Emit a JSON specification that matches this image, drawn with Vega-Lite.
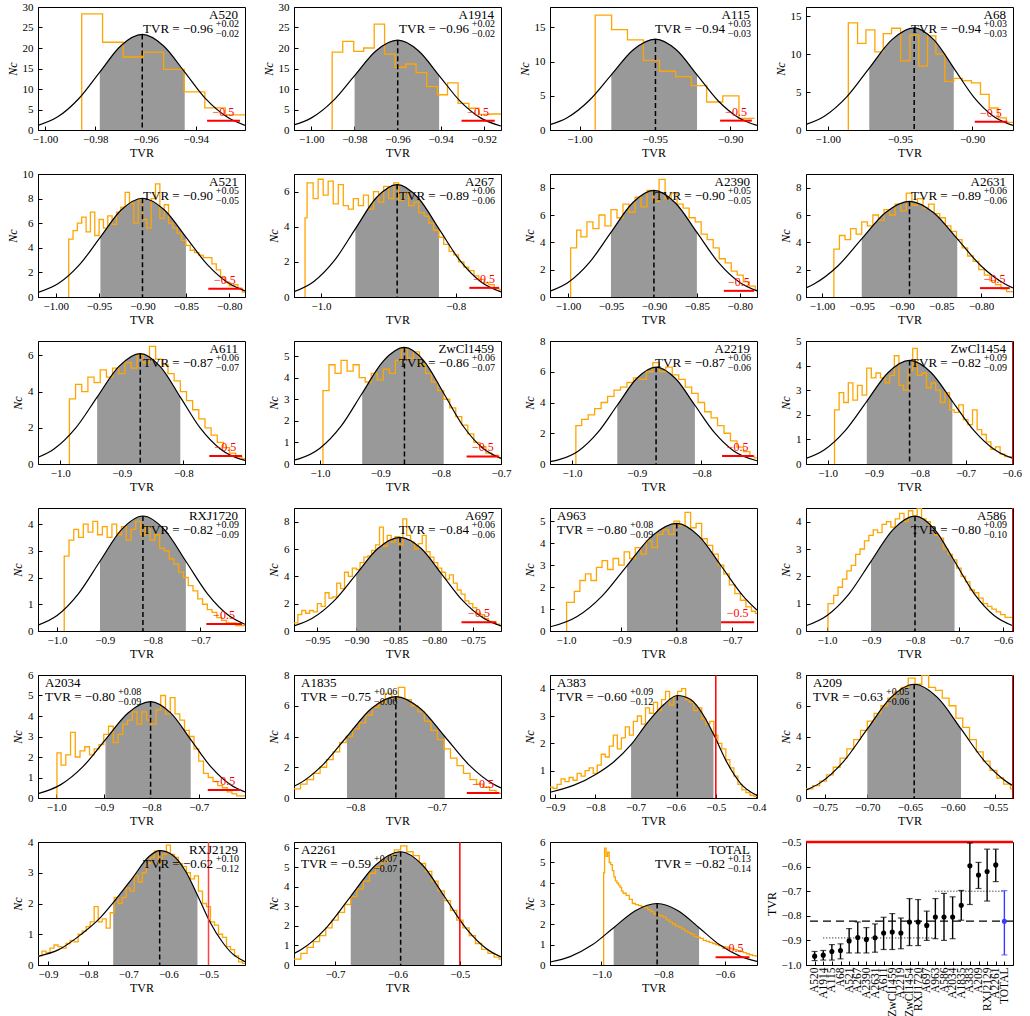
{
"$schema":"https://vega.github.io/schema/vega-lite/v6.json",
"background":"white",
"padding":{"left":5,"top":0,"right":0,"bottom":0},
"columns":4,
"spacing":{"row":44,"column":49},
"bounds":"flush",
"config":{"font":"Liberation Serif","view":{"stroke":"black","strokeWidth":1},
"axis":{"grid":false,"domainColor":"black","tickColor":"black","tickSize":-4,"labelPadding":7,"labelFont":"Liberation Serif","labelFontSize":11,"labelColor":"black","labelFlush":false,"labelOverlap":false,"titleFont":"Liberation Serif","titleFontSize":12,"titleFontWeight":"normal","titleColor":"black","titlePadding":3},
"axisY":{"labelPadding":9,"titleFontStyle":"italic"},
"text":{"font":"Liberation Serif","baseline":"alphabetic","color":"black"}},
"datasets":{
"A520":[{"k":"g","x":-1.0028,"y":1.14},{"k":"g","x":-0.9951,"y":3.15},{"k":"g","x":-0.9867,"y":7.57},{"k":"s","x":-0.9782,"y":14.13},{"k":"s","x":-0.9698,"y":20.56},{"k":"s","x":-0.9613,"y":23.3},{"k":"s","x":-0.9529,"y":20.56},{"k":"s","x":-0.9444,"y":14.13},{"k":"g","x":-0.936,"y":7.57},{"k":"g","x":-0.9275,"y":3.15},{"k":"g","x":-0.9204,"y":1.14},{"k":"m","x":-0.9613,"y":23.3},
{"k":"h","x":-0.9855,"y":0},{"k":"h","x":-0.9854,"y":28.3},{"k":"h","x":-0.9771,"y":21.4},{"k":"h","x":-0.9689,"y":17.8},{"k":"h","x":-0.9608,"y":19.0},{"k":"h","x":-0.9528,"y":14.8},{"k":"h","x":-0.9446,"y":9.3},{"k":"h","x":-0.9364,"y":5.4},{"k":"h","x":-0.9282,"y":3.7},{"k":"h","x":-0.9204,"y":3.7},
{"k":"r","x":-0.9355,"y":2.25},{"k":"r","x":-0.9224,"y":2.25},{"k":"q","x":-0.929,"y":2.25},
{"k":"T","x":-0.9204,"y":30,"n":"A520","v":"TVR = −0.96","u":"+0.02","l":"−0.02"}],
"A1914":[{"k":"g","x":-1.008,"y":1.22},{"k":"g","x":-0.9999,"y":2.96},{"k":"g","x":-0.9899,"y":7.11},{"k":"s","x":-0.9799,"y":13.28},{"k":"s","x":-0.9699,"y":19.33},{"k":"s","x":-0.9599,"y":21.9},{"k":"s","x":-0.9503,"y":19.33},{"k":"s","x":-0.9407,"y":13.28},{"k":"g","x":-0.9311,"y":7.11},{"k":"g","x":-0.9215,"y":2.96},{"k":"g","x":-0.912,"y":0.97},{"k":"m","x":-0.9599,"y":21.9},
{"k":"h","x":-0.9904,"y":0},{"k":"h","x":-0.9903,"y":19.0},{"k":"h","x":-0.9854,"y":21.6},{"k":"h","x":-0.9803,"y":19.2},{"k":"h","x":-0.9757,"y":20.0},{"k":"h","x":-0.9708,"y":25.8},{"k":"h","x":-0.966,"y":18.5},{"k":"h","x":-0.9611,"y":15.3},{"k":"h","x":-0.9562,"y":16.1},{"k":"h","x":-0.9514,"y":14.0},{"k":"h","x":-0.9465,"y":10.6},{"k":"h","x":-0.9415,"y":8.6},{"k":"h","x":-0.9368,"y":11.5},{"k":"h","x":-0.9319,"y":6.5},{"k":"h","x":-0.9269,"y":5.3},{"k":"h","x":-0.9222,"y":3.8},{"k":"h","x":-0.9172,"y":3.9},{"k":"h","x":-0.912,"y":3.9},
{"k":"r","x":-0.9303,"y":2.26},{"k":"r","x":-0.9149,"y":2.26},{"k":"q","x":-0.9226,"y":2.26},
{"k":"T","x":-0.912,"y":30,"n":"A1914","v":"TVR = −0.96","u":"+0.02","l":"−0.02"}],
"A115":[{"k":"g","x":-1.0196,"y":0.77},{"k":"g","x":-1.0082,"y":1.8},{"k":"g","x":-0.9936,"y":4.32},{"k":"s","x":-0.9789,"y":8.07},{"k":"s","x":-0.9643,"y":11.74},{"k":"s","x":-0.9496,"y":13.3},{"k":"s","x":-0.9358,"y":11.74},{"k":"s","x":-0.922,"y":8.07},{"k":"g","x":-0.9082,"y":4.32},{"k":"g","x":-0.8944,"y":1.8},{"k":"g","x":-0.8822,"y":0.67},{"k":"m","x":-0.9496,"y":13.3},
{"k":"h","x":-0.9897,"y":0},{"k":"h","x":-0.9896,"y":16.8},{"k":"h","x":-0.9787,"y":14.7},{"k":"h","x":-0.9682,"y":13.2},{"k":"h","x":-0.9576,"y":10.2},{"k":"h","x":-0.9469,"y":8.6},{"k":"h","x":-0.9362,"y":7.8},{"k":"h","x":-0.9258,"y":6.5},{"k":"h","x":-0.9156,"y":4.1},{"k":"h","x":-0.9049,"y":5.0},{"k":"h","x":-0.8942,"y":1.7},{"k":"h","x":-0.8838,"y":1.7},
{"k":"r","x":-0.9067,"y":1.37},{"k":"r","x":-0.8856,"y":1.37},{"k":"q","x":-0.896,"y":1.37},
{"k":"T","x":-0.8822,"y":18,"n":"A115","v":"TVR = −0.94","u":"+0.03","l":"−0.03"}],
"A68":[{"k":"g","x":-1.015,"y":0.74},{"k":"g","x":-1.0023,"y":1.82},{"k":"g","x":-0.9868,"y":4.37},{"k":"s","x":-0.9712,"y":8.16},{"k":"s","x":-0.9557,"y":11.87},{"k":"s","x":-0.9401,"y":13.45},{"k":"s","x":-0.9264,"y":11.87},{"k":"s","x":-0.9127,"y":8.16},{"k":"g","x":-0.899,"y":4.37},{"k":"g","x":-0.8853,"y":1.82},{"k":"g","x":-0.8717,"y":0.6},{"k":"m","x":-0.9401,"y":13.45},
{"k":"h","x":-0.9858,"y":0},{"k":"h","x":-0.9857,"y":14.1},{"k":"h","x":-0.9793,"y":11.4},{"k":"h","x":-0.9735,"y":13.2},{"k":"h","x":-0.9673,"y":10.3},{"k":"h","x":-0.9615,"y":12.7},{"k":"h","x":-0.9558,"y":13.4},{"k":"h","x":-0.9495,"y":9.1},{"k":"h","x":-0.9431,"y":12.5},{"k":"h","x":-0.9369,"y":8.4},{"k":"h","x":-0.9309,"y":12.4},{"k":"h","x":-0.9251,"y":10.0},{"k":"h","x":-0.9189,"y":6.4},{"k":"h","x":-0.9127,"y":6.8},{"k":"h","x":-0.9067,"y":6.5},{"k":"h","x":-0.9005,"y":6.2},{"k":"h","x":-0.8942,"y":4.7},{"k":"h","x":-0.8882,"y":2.9},{"k":"h","x":-0.882,"y":1.6},{"k":"h","x":-0.8763,"y":1.0},{"k":"h","x":-0.8717,"y":1.0},
{"k":"r","x":-0.8982,"y":1.1},{"k":"r","x":-0.8756,"y":1.1},{"k":"q","x":-0.887,"y":1.1},
{"k":"T","x":-0.8717,"y":16.2,"n":"A68","v":"TVR = −0.94","u":"+0.03","l":"−0.03"}],
"A521":[{"k":"g","x":-1.0204,"y":0.37},{"k":"g","x":-0.997,"y":1.09},{"k":"g","x":-0.9728,"y":2.61},{"k":"s","x":-0.9485,"y":4.87},{"k":"s","x":-0.9243,"y":7.09},{"k":"s","x":-0.9,"y":8.03},{"k":"s","x":-0.875,"y":7.09},{"k":"s","x":-0.85,"y":4.87},{"k":"g","x":-0.825,"y":2.61},{"k":"g","x":-0.8,"y":1.09},{"k":"g","x":-0.7819,"y":0.49},{"k":"m","x":-0.9,"y":8.03},
{"k":"h","x":-0.9851,"y":0},{"k":"h","x":-0.985,"y":4.7},{"k":"h","x":-0.98,"y":5.4},{"k":"h","x":-0.975,"y":6.0},{"k":"h","x":-0.97,"y":6.5},{"k":"h","x":-0.965,"y":5.3},{"k":"h","x":-0.96,"y":6.9},{"k":"h","x":-0.955,"y":5.0},{"k":"h","x":-0.95,"y":6.3},{"k":"h","x":-0.945,"y":5.6},{"k":"h","x":-0.94,"y":6.6},{"k":"h","x":-0.935,"y":5.9},{"k":"h","x":-0.93,"y":6.9},{"k":"h","x":-0.925,"y":7.3},{"k":"h","x":-0.92,"y":8.5},{"k":"h","x":-0.915,"y":7.6},{"k":"h","x":-0.91,"y":6.0},{"k":"h","x":-0.905,"y":7.9},{"k":"h","x":-0.9,"y":6.3},{"k":"h","x":-0.895,"y":5.6},{"k":"h","x":-0.89,"y":8.0},{"k":"h","x":-0.885,"y":9.2},{"k":"h","x":-0.88,"y":6.4},{"k":"h","x":-0.875,"y":7.5},{"k":"h","x":-0.87,"y":6.0},{"k":"h","x":-0.865,"y":5.6},{"k":"h","x":-0.86,"y":5.2},{"k":"h","x":-0.855,"y":4.6},{"k":"h","x":-0.85,"y":4.2},{"k":"h","x":-0.845,"y":3.8},{"k":"h","x":-0.84,"y":3.6},{"k":"h","x":-0.835,"y":3.4},{"k":"h","x":-0.83,"y":3.2},{"k":"h","x":-0.825,"y":3.2},{"k":"h","x":-0.82,"y":2.7},{"k":"h","x":-0.815,"y":2.2},{"k":"h","x":-0.81,"y":1.6},{"k":"h","x":-0.805,"y":1.2},{"k":"h","x":-0.8,"y":0.9},{"k":"h","x":-0.795,"y":1.0},{"k":"h","x":-0.79,"y":0.7},{"k":"h","x":-0.785,"y":0.4},{"k":"h","x":-0.7819,"y":0.4},
{"k":"r","x":-0.8242,"y":0.68},{"k":"r","x":-0.7858,"y":0.68},{"k":"q","x":-0.805,"y":0.68},
{"k":"T","x":-0.7819,"y":10,"n":"A521","v":"TVR = −0.90","u":"+0.05","l":"−0.05"}],
"A267":[{"k":"g","x":-1.04,"y":0.3},{"k":"g","x":-1.011,"y":0.87},{"k":"g","x":-0.98,"y":2.08},{"k":"s","x":-0.949,"y":3.88},{"k":"s","x":-0.918,"y":5.65},{"k":"s","x":-0.887,"y":6.4},{"k":"s","x":-0.856,"y":5.65},{"k":"s","x":-0.825,"y":3.88},{"k":"g","x":-0.794,"y":2.08},{"k":"g","x":-0.763,"y":0.87},{"k":"g","x":-0.733,"y":0.29},{"k":"m","x":-0.887,"y":6.4},
{"k":"h","x":-1.0237,"y":0},{"k":"h","x":-1.0236,"y":4.5},{"k":"h","x":-1.0206,"y":6.5},{"k":"h","x":-1.0116,"y":5.6},{"k":"h","x":-1.0042,"y":6.7},{"k":"h","x":-0.9967,"y":5.8},{"k":"h","x":-0.9893,"y":6.6},{"k":"h","x":-0.9818,"y":5.3},{"k":"h","x":-0.9743,"y":6.4},{"k":"h","x":-0.9669,"y":5.2},{"k":"h","x":-0.9594,"y":5.0},{"k":"h","x":-0.952,"y":5.6},{"k":"h","x":-0.9445,"y":5.2},{"k":"h","x":-0.937,"y":5.8},{"k":"h","x":-0.9296,"y":5.0},{"k":"h","x":-0.922,"y":6.0},{"k":"h","x":-0.9146,"y":5.4},{"k":"h","x":-0.907,"y":6.3},{"k":"h","x":-0.8997,"y":5.6},{"k":"h","x":-0.892,"y":6.5},{"k":"h","x":-0.8848,"y":5.5},{"k":"h","x":-0.877,"y":5.9},{"k":"h","x":-0.8699,"y":5.2},{"k":"h","x":-0.862,"y":5.4},{"k":"h","x":-0.855,"y":4.8},{"k":"h","x":-0.847,"y":4.6},{"k":"h","x":-0.84,"y":4.2},{"k":"h","x":-0.833,"y":3.8},{"k":"h","x":-0.825,"y":3.4},{"k":"h","x":-0.818,"y":3.0},{"k":"h","x":-0.81,"y":2.6},{"k":"h","x":-0.803,"y":2.4},{"k":"h","x":-0.796,"y":2.0},{"k":"h","x":-0.788,"y":1.7},{"k":"h","x":-0.781,"y":1.5},{"k":"h","x":-0.773,"y":1.2},{"k":"h","x":-0.766,"y":1.0},{"k":"h","x":-0.758,"y":0.8},{"k":"h","x":-0.751,"y":0.7},{"k":"h","x":-0.743,"y":0.5},{"k":"h","x":-0.736,"y":0.4},{"k":"h","x":-0.733,"y":0.4},
{"k":"r","x":-0.78,"y":0.52},{"k":"r","x":-0.736,"y":0.52},{"k":"q","x":-0.758,"y":0.52},
{"k":"T","x":-0.733,"y":7,"n":"A267","v":"TVR = −0.89","u":"+0.06","l":"−0.06"}],
"A2390":[{"k":"g","x":-1.021,"y":0.42},{"k":"g","x":-1.0,"y":1.06},{"k":"g","x":-0.975,"y":2.53},{"k":"s","x":-0.95,"y":4.73},{"k":"s","x":-0.925,"y":6.88},{"k":"s","x":-0.9,"y":7.8},{"k":"s","x":-0.875,"y":6.88},{"k":"s","x":-0.85,"y":4.73},{"k":"g","x":-0.825,"y":2.53},{"k":"g","x":-0.8,"y":1.06},{"k":"g","x":-0.78,"y":0.44},{"k":"m","x":-0.9,"y":7.8},
{"k":"h","x":-0.9971,"y":0},{"k":"h","x":-0.997,"y":3.6},{"k":"h","x":-0.99,"y":4.9},{"k":"h","x":-0.985,"y":4.4},{"k":"h","x":-0.978,"y":5.5},{"k":"h","x":-0.971,"y":5.0},{"k":"h","x":-0.964,"y":6.0},{"k":"h","x":-0.957,"y":5.2},{"k":"h","x":-0.95,"y":6.4},{"k":"h","x":-0.943,"y":5.8},{"k":"h","x":-0.936,"y":6.8},{"k":"h","x":-0.929,"y":6.2},{"k":"h","x":-0.922,"y":7.3},{"k":"h","x":-0.915,"y":6.6},{"k":"h","x":-0.908,"y":7.8},{"k":"h","x":-0.901,"y":7.0},{"k":"h","x":-0.894,"y":8.6},{"k":"h","x":-0.887,"y":7.2},{"k":"h","x":-0.88,"y":7.6},{"k":"h","x":-0.873,"y":6.8},{"k":"h","x":-0.866,"y":6.5},{"k":"h","x":-0.859,"y":5.8},{"k":"h","x":-0.852,"y":5.5},{"k":"h","x":-0.845,"y":4.6},{"k":"h","x":-0.838,"y":4.2},{"k":"h","x":-0.831,"y":3.6},{"k":"h","x":-0.824,"y":2.8},{"k":"h","x":-0.817,"y":2.5},{"k":"h","x":-0.81,"y":1.9},{"k":"h","x":-0.803,"y":1.6},{"k":"h","x":-0.796,"y":1.1},{"k":"h","x":-0.789,"y":0.8},{"k":"h","x":-0.782,"y":0.5},{"k":"h","x":-0.78,"y":0.5},
{"k":"r","x":-0.8186,"y":0.45},{"k":"r","x":-0.7835,"y":0.45},{"k":"q","x":-0.801,"y":0.45},
{"k":"T","x":-0.78,"y":9,"n":"A2390","v":"TVR = −0.90","u":"+0.05","l":"−0.05"}],
"A2631":[{"k":"g","x":-1.02,"y":0.66},{"k":"g","x":-1.01,"y":0.95},{"k":"g","x":-0.98,"y":2.27},{"k":"s","x":-0.95,"y":4.25},{"k":"s","x":-0.92,"y":6.18},{"k":"s","x":-0.89,"y":7.0},{"k":"s","x":-0.86,"y":6.18},{"k":"s","x":-0.83,"y":4.25},{"k":"g","x":-0.8,"y":2.27},{"k":"g","x":-0.77,"y":0.95},{"k":"g","x":-0.76,"y":0.66},{"k":"m","x":-0.89,"y":7.0},
{"k":"h","x":-0.9851,"y":0},{"k":"h","x":-0.985,"y":3.5},{"k":"h","x":-0.978,"y":4.5},{"k":"h","x":-0.971,"y":4.2},{"k":"h","x":-0.964,"y":5.0},{"k":"h","x":-0.957,"y":4.6},{"k":"h","x":-0.95,"y":5.5},{"k":"h","x":-0.943,"y":5.2},{"k":"h","x":-0.936,"y":6.0},{"k":"h","x":-0.929,"y":5.6},{"k":"h","x":-0.922,"y":6.4},{"k":"h","x":-0.915,"y":6.0},{"k":"h","x":-0.908,"y":6.8},{"k":"h","x":-0.901,"y":6.3},{"k":"h","x":-0.894,"y":7.6},{"k":"h","x":-0.887,"y":6.7},{"k":"h","x":-0.88,"y":7.2},{"k":"h","x":-0.873,"y":6.5},{"k":"h","x":-0.866,"y":6.8},{"k":"h","x":-0.859,"y":6.1},{"k":"h","x":-0.852,"y":5.8},{"k":"h","x":-0.845,"y":5.2},{"k":"h","x":-0.838,"y":4.8},{"k":"h","x":-0.831,"y":4.2},{"k":"h","x":-0.824,"y":3.6},{"k":"h","x":-0.817,"y":3.0},{"k":"h","x":-0.81,"y":2.6},{"k":"h","x":-0.803,"y":2.0},{"k":"h","x":-0.796,"y":1.6},{"k":"h","x":-0.789,"y":1.2},{"k":"h","x":-0.782,"y":0.9},{"k":"h","x":-0.775,"y":0.6},{"k":"h","x":-0.768,"y":0.4},{"k":"h","x":-0.76,"y":0.4},
{"k":"r","x":-0.8015,"y":0.65},{"k":"r","x":-0.764,"y":0.65},{"k":"q","x":-0.783,"y":0.65},
{"k":"T","x":-0.76,"y":9,"n":"A2631","v":"TVR = −0.89","u":"+0.06","l":"−0.06"}],
"A611":[{"k":"g","x":-1.036,"y":0.37},{"k":"g","x":-1.01,"y":0.83},{"k":"g","x":-0.975,"y":1.98},{"k":"s","x":-0.94,"y":3.7},{"k":"s","x":-0.905,"y":5.38},{"k":"s","x":-0.87,"y":6.1},{"k":"s","x":-0.8375,"y":5.38},{"k":"s","x":-0.805,"y":3.7},{"k":"g","x":-0.7725,"y":1.98},{"k":"g","x":-0.74,"y":0.83},{"k":"g","x":-0.7075,"y":0.27},{"k":"g","x":-0.7,"y":0.2},{"k":"m","x":-0.87,"y":6.1},
{"k":"h","x":-0.9851,"y":0},{"k":"h","x":-0.985,"y":3.6},{"k":"h","x":-0.975,"y":4.4},{"k":"h","x":-0.965,"y":4.0},{"k":"h","x":-0.955,"y":4.8},{"k":"h","x":-0.945,"y":4.5},{"k":"h","x":-0.935,"y":5.2},{"k":"h","x":-0.925,"y":4.8},{"k":"h","x":-0.915,"y":5.3},{"k":"h","x":-0.905,"y":5.0},{"k":"h","x":-0.895,"y":5.6},{"k":"h","x":-0.885,"y":5.3},{"k":"h","x":-0.875,"y":6.0},{"k":"h","x":-0.865,"y":5.6},{"k":"h","x":-0.855,"y":6.5},{"k":"h","x":-0.845,"y":5.8},{"k":"h","x":-0.835,"y":5.5},{"k":"h","x":-0.825,"y":5.0},{"k":"h","x":-0.815,"y":4.6},{"k":"h","x":-0.805,"y":4.0},{"k":"h","x":-0.795,"y":3.5},{"k":"h","x":-0.785,"y":3.0},{"k":"h","x":-0.775,"y":2.5},{"k":"h","x":-0.765,"y":2.0},{"k":"h","x":-0.755,"y":1.6},{"k":"h","x":-0.745,"y":1.2},{"k":"h","x":-0.735,"y":0.9},{"k":"h","x":-0.725,"y":0.6},{"k":"h","x":-0.715,"y":0.4},{"k":"h","x":-0.705,"y":0.3},{"k":"h","x":-0.7,"y":0.3},
{"k":"r","x":-0.758,"y":0.44},{"k":"r","x":-0.705,"y":0.44},{"k":"q","x":-0.732,"y":0.44},
{"k":"T","x":-0.7,"y":6.8,"n":"A611","v":"TVR = −0.87","u":"+0.06","l":"−0.07"}],
"ZwCl1459":[{"k":"g","x":-1.043,"y":0.18},{"k":"g","x":-1.035,"y":0.24},{"k":"g","x":-1.0,"y":0.73},{"k":"g","x":-0.965,"y":1.75},{"k":"s","x":-0.93,"y":3.28},{"k":"s","x":-0.895,"y":4.77},{"k":"s","x":-0.86,"y":5.4},{"k":"s","x":-0.8275,"y":4.77},{"k":"s","x":-0.795,"y":3.28},{"k":"g","x":-0.7625,"y":1.75},{"k":"g","x":-0.73,"y":0.73},{"k":"g","x":-0.7,"y":0.26},{"k":"m","x":-0.86,"y":5.4},
{"k":"h","x":-0.9951,"y":0},{"k":"h","x":-0.995,"y":3.4},{"k":"h","x":-0.985,"y":4.6},{"k":"h","x":-0.975,"y":4.2},{"k":"h","x":-0.965,"y":4.8},{"k":"h","x":-0.955,"y":4.3},{"k":"h","x":-0.945,"y":4.6},{"k":"h","x":-0.935,"y":4.0},{"k":"h","x":-0.925,"y":3.8},{"k":"h","x":-0.915,"y":4.2},{"k":"h","x":-0.905,"y":3.9},{"k":"h","x":-0.895,"y":4.4},{"k":"h","x":-0.885,"y":4.2},{"k":"h","x":-0.875,"y":4.8},{"k":"h","x":-0.865,"y":5.3},{"k":"h","x":-0.855,"y":4.9},{"k":"h","x":-0.845,"y":5.2},{"k":"h","x":-0.835,"y":4.6},{"k":"h","x":-0.825,"y":4.2},{"k":"h","x":-0.815,"y":3.8},{"k":"h","x":-0.805,"y":3.4},{"k":"h","x":-0.795,"y":3.0},{"k":"h","x":-0.785,"y":2.6},{"k":"h","x":-0.775,"y":2.2},{"k":"h","x":-0.765,"y":1.8},{"k":"h","x":-0.755,"y":1.4},{"k":"h","x":-0.745,"y":1.0},{"k":"h","x":-0.735,"y":0.8},{"k":"h","x":-0.725,"y":0.5},{"k":"h","x":-0.715,"y":0.4},{"k":"h","x":-0.705,"y":0.3},{"k":"h","x":-0.7,"y":0.3},
{"k":"r","x":-0.757,"y":0.35},{"k":"r","x":-0.703,"y":0.35},{"k":"q","x":-0.73,"y":0.35},
{"k":"T","x":-0.7,"y":5.7,"n":"ZwCl1459","v":"TVR = −0.86","u":"+0.06","l":"−0.07"}],
"A2219":[{"k":"g","x":-1.034,"y":0.15},{"k":"g","x":-1.02,"y":0.28},{"k":"g","x":-0.99,"y":0.85},{"k":"g","x":-0.96,"y":2.05},{"k":"s","x":-0.93,"y":3.82},{"k":"s","x":-0.9,"y":5.56},{"k":"s","x":-0.87,"y":6.3},{"k":"s","x":-0.84,"y":5.56},{"k":"s","x":-0.81,"y":3.82},{"k":"g","x":-0.78,"y":2.05},{"k":"g","x":-0.75,"y":0.85},{"k":"g","x":-0.714,"y":0.21},{"k":"m","x":-0.87,"y":6.3},
{"k":"h","x":-0.9941,"y":0},{"k":"h","x":-0.994,"y":2.5},{"k":"h","x":-0.985,"y":2.9},{"k":"h","x":-0.975,"y":3.2},{"k":"h","x":-0.965,"y":3.6},{"k":"h","x":-0.955,"y":4.0},{"k":"h","x":-0.945,"y":4.4},{"k":"h","x":-0.935,"y":4.8},{"k":"h","x":-0.925,"y":5.0},{"k":"h","x":-0.915,"y":5.3},{"k":"h","x":-0.905,"y":5.6},{"k":"h","x":-0.895,"y":5.5},{"k":"h","x":-0.885,"y":6.0},{"k":"h","x":-0.875,"y":6.6},{"k":"h","x":-0.865,"y":6.0},{"k":"h","x":-0.855,"y":6.3},{"k":"h","x":-0.845,"y":5.8},{"k":"h","x":-0.835,"y":5.5},{"k":"h","x":-0.825,"y":5.0},{"k":"h","x":-0.815,"y":4.6},{"k":"h","x":-0.805,"y":4.0},{"k":"h","x":-0.795,"y":3.4},{"k":"h","x":-0.785,"y":3.0},{"k":"h","x":-0.775,"y":2.5},{"k":"h","x":-0.765,"y":2.0},{"k":"h","x":-0.755,"y":1.5},{"k":"h","x":-0.745,"y":1.1},{"k":"h","x":-0.735,"y":0.8},{"k":"h","x":-0.725,"y":0.5},{"k":"h","x":-0.718,"y":0.4},{"k":"h","x":-0.714,"y":0.4},
{"k":"r","x":-0.768,"y":0.52},{"k":"r","x":-0.719,"y":0.52},{"k":"q","x":-0.744,"y":0.52},
{"k":"T","x":-0.714,"y":8,"n":"A2219","v":"TVR = −0.87","u":"+0.06","l":"−0.06"}],
"ZwCl1454":[{"k":"g","x":-1.047,"y":0.225},{"k":"g","x":-1.0078,"y":0.57},{"k":"g","x":-0.9613,"y":1.37},{"k":"s","x":-0.9148,"y":2.55},{"k":"s","x":-0.8683,"y":3.72},{"k":"s","x":-0.8218,"y":4.21},{"k":"s","x":-0.7753,"y":3.72},{"k":"s","x":-0.7288,"y":2.55},{"k":"g","x":-0.6823,"y":1.37},{"k":"g","x":-0.6358,"y":0.57},{"k":"g","x":-0.597,"y":0.225},{"k":"m","x":-0.8218,"y":4.21},
{"k":"h","x":-0.9851,"y":0},{"k":"h","x":-0.985,"y":2.2},{"k":"h","x":-0.975,"y":2.9},{"k":"h","x":-0.965,"y":2.5},{"k":"h","x":-0.955,"y":3.3},{"k":"h","x":-0.945,"y":2.6},{"k":"h","x":-0.935,"y":3.2},{"k":"h","x":-0.925,"y":2.8},{"k":"h","x":-0.915,"y":3.9},{"k":"h","x":-0.905,"y":3.5},{"k":"h","x":-0.895,"y":3.7},{"k":"h","x":-0.885,"y":3.5},{"k":"h","x":-0.875,"y":3.3},{"k":"h","x":-0.865,"y":3.6},{"k":"h","x":-0.855,"y":4.4},{"k":"h","x":-0.845,"y":3.2},{"k":"h","x":-0.835,"y":3.0},{"k":"h","x":-0.825,"y":3.8},{"k":"h","x":-0.815,"y":4.7},{"k":"h","x":-0.805,"y":3.6},{"k":"h","x":-0.795,"y":3.7},{"k":"h","x":-0.785,"y":3.1},{"k":"h","x":-0.775,"y":3.3},{"k":"h","x":-0.765,"y":3.0},{"k":"h","x":-0.755,"y":2.5},{"k":"h","x":-0.745,"y":2.9},{"k":"h","x":-0.735,"y":2.2},{"k":"h","x":-0.725,"y":2.1},{"k":"h","x":-0.715,"y":2.4},{"k":"h","x":-0.705,"y":1.8},{"k":"h","x":-0.695,"y":1.6},{"k":"h","x":-0.685,"y":2.2},{"k":"h","x":-0.675,"y":1.4},{"k":"h","x":-0.665,"y":1.2},{"k":"h","x":-0.655,"y":0.9},{"k":"h","x":-0.645,"y":0.6},{"k":"h","x":-0.635,"y":0.7},{"k":"h","x":-0.625,"y":0.4},{"k":"h","x":-0.615,"y":0.3},{"k":"h","x":-0.605,"y":0.3},{"k":"h","x":-0.597,"y":0.3},
{"k":"r","x":-0.597,"y":0},{"k":"r","x":-0.597,"y":5},
{"k":"T","x":-0.597,"y":5,"n":"ZwCl1454","v":"TVR = −0.82","u":"+0.09","l":"−0.09"}],
"RXJ1720":[{"k":"g","x":-1.04,"y":0.22},{"k":"g","x":-1.0,"y":0.58},{"k":"g","x":-0.955,"y":1.4},{"k":"s","x":-0.91,"y":2.61},{"k":"s","x":-0.865,"y":3.79},{"k":"s","x":-0.82,"y":4.3},{"k":"s","x":-0.775,"y":3.79},{"k":"s","x":-0.73,"y":2.61},{"k":"g","x":-0.685,"y":1.4},{"k":"g","x":-0.64,"y":0.58},{"k":"g","x":-0.606,"y":0.25},{"k":"m","x":-0.82,"y":4.3},
{"k":"h","x":-0.9851,"y":0},{"k":"h","x":-0.985,"y":2.8},{"k":"h","x":-0.975,"y":3.4},{"k":"h","x":-0.965,"y":3.8},{"k":"h","x":-0.955,"y":3.5},{"k":"h","x":-0.945,"y":4.0},{"k":"h","x":-0.935,"y":3.7},{"k":"h","x":-0.925,"y":4.1},{"k":"h","x":-0.915,"y":3.6},{"k":"h","x":-0.905,"y":3.9},{"k":"h","x":-0.895,"y":3.5},{"k":"h","x":-0.885,"y":4.0},{"k":"h","x":-0.875,"y":3.6},{"k":"h","x":-0.865,"y":3.9},{"k":"h","x":-0.855,"y":3.4},{"k":"h","x":-0.845,"y":3.8},{"k":"h","x":-0.835,"y":4.1},{"k":"h","x":-0.825,"y":3.6},{"k":"h","x":-0.815,"y":3.9},{"k":"h","x":-0.805,"y":3.4},{"k":"h","x":-0.795,"y":3.6},{"k":"h","x":-0.785,"y":3.1},{"k":"h","x":-0.775,"y":3.0},{"k":"h","x":-0.765,"y":2.7},{"k":"h","x":-0.755,"y":2.5},{"k":"h","x":-0.745,"y":2.2},{"k":"h","x":-0.735,"y":2.0},{"k":"h","x":-0.725,"y":1.7},{"k":"h","x":-0.715,"y":1.5},{"k":"h","x":-0.705,"y":1.2},{"k":"h","x":-0.695,"y":1.0},{"k":"h","x":-0.685,"y":0.8},{"k":"h","x":-0.675,"y":0.7},{"k":"h","x":-0.665,"y":0.5},{"k":"h","x":-0.655,"y":0.4},{"k":"h","x":-0.645,"y":0.3},{"k":"h","x":-0.635,"y":0.3},{"k":"h","x":-0.625,"y":0.2},{"k":"h","x":-0.615,"y":0.2},{"k":"h","x":-0.606,"y":0.2},
{"k":"r","x":-0.687,"y":0.26},{"k":"r","x":-0.612,"y":0.26},{"k":"q","x":-0.65,"y":0.26},
{"k":"T","x":-0.606,"y":4.6,"n":"RXJ1720","v":"TVR = −0.82","u":"+0.09","l":"−0.09"}],
"A697":[{"k":"g","x":-0.98,"y":0.37},{"k":"g","x":-0.9564,"y":0.93},{"k":"g","x":-0.9282,"y":2.22},{"k":"s","x":-0.9,"y":4.15},{"k":"s","x":-0.8718,"y":6.05},{"k":"s","x":-0.8436,"y":6.85},{"k":"s","x":-0.8167,"y":6.05},{"k":"s","x":-0.7898,"y":4.15},{"k":"g","x":-0.7629,"y":2.22},{"k":"g","x":-0.736,"y":0.93},{"k":"g","x":-0.7137,"y":0.37},{"k":"m","x":-0.8436,"y":6.85},
{"k":"h","x":-0.98,"y":0.6},{"k":"h","x":-0.975,"y":1.2},{"k":"h","x":-0.97,"y":1.5},{"k":"h","x":-0.965,"y":1.3},{"k":"h","x":-0.96,"y":1.5},{"k":"h","x":-0.955,"y":1.4},{"k":"h","x":-0.95,"y":2.0},{"k":"h","x":-0.945,"y":1.8},{"k":"h","x":-0.94,"y":2.8},{"k":"h","x":-0.935,"y":2.4},{"k":"h","x":-0.93,"y":2.5},{"k":"h","x":-0.925,"y":3.5},{"k":"h","x":-0.92,"y":3.1},{"k":"h","x":-0.915,"y":4.3},{"k":"h","x":-0.91,"y":4.0},{"k":"h","x":-0.905,"y":4.6},{"k":"h","x":-0.9,"y":4.5},{"k":"h","x":-0.895,"y":5.0},{"k":"h","x":-0.89,"y":5.4},{"k":"h","x":-0.885,"y":5.5},{"k":"h","x":-0.88,"y":5.9},{"k":"h","x":-0.875,"y":6.3},{"k":"h","x":-0.87,"y":7.6},{"k":"h","x":-0.865,"y":6.2},{"k":"h","x":-0.86,"y":7.0},{"k":"h","x":-0.855,"y":6.5},{"k":"h","x":-0.85,"y":6.9},{"k":"h","x":-0.845,"y":6.3},{"k":"h","x":-0.84,"y":8.2},{"k":"h","x":-0.835,"y":7.0},{"k":"h","x":-0.83,"y":6.5},{"k":"h","x":-0.825,"y":6.0},{"k":"h","x":-0.82,"y":6.4},{"k":"h","x":-0.815,"y":7.0},{"k":"h","x":-0.81,"y":5.8},{"k":"h","x":-0.805,"y":5.4},{"k":"h","x":-0.8,"y":5.0},{"k":"h","x":-0.795,"y":4.6},{"k":"h","x":-0.79,"y":4.3},{"k":"h","x":-0.785,"y":3.8},{"k":"h","x":-0.78,"y":4.1},{"k":"h","x":-0.775,"y":3.5},{"k":"h","x":-0.77,"y":3.0},{"k":"h","x":-0.765,"y":2.7},{"k":"h","x":-0.76,"y":2.2},{"k":"h","x":-0.755,"y":2.0},{"k":"h","x":-0.75,"y":1.7},{"k":"h","x":-0.745,"y":1.3},{"k":"h","x":-0.74,"y":1.2},{"k":"h","x":-0.735,"y":0.9},{"k":"h","x":-0.73,"y":0.7},{"k":"h","x":-0.725,"y":0.6},{"k":"h","x":-0.72,"y":0.5},{"k":"h","x":-0.715,"y":0.4},{"k":"h","x":-0.7137,"y":0.4},
{"k":"r","x":-0.7645,"y":0.64},{"k":"r","x":-0.7197,"y":0.64},{"k":"q","x":-0.742,"y":0.64},
{"k":"T","x":-0.7137,"y":9,"n":"A697","v":"TVR = −0.84","u":"+0.06","l":"−0.06"}],
"A963":[{"k":"g","x":-1.029,"y":0.19},{"k":"g","x":-1.025,"y":0.215},{"k":"g","x":-0.98,"y":0.66},{"k":"g","x":-0.935,"y":1.59},{"k":"s","x":-0.89,"y":2.97},{"k":"s","x":-0.845,"y":4.32},{"k":"s","x":-0.8,"y":4.9},{"k":"s","x":-0.76,"y":4.32},{"k":"s","x":-0.72,"y":2.97},{"k":"g","x":-0.68,"y":1.59},{"k":"g","x":-0.655,"y":0.95},{"k":"m","x":-0.8,"y":4.9},
{"k":"h","x":-0.9991,"y":0},{"k":"h","x":-0.999,"y":1.3},{"k":"h","x":-0.985,"y":1.8},{"k":"h","x":-0.975,"y":2.3},{"k":"h","x":-0.965,"y":2.6},{"k":"h","x":-0.955,"y":2.3},{"k":"h","x":-0.945,"y":2.9},{"k":"h","x":-0.935,"y":3.2},{"k":"h","x":-0.925,"y":2.8},{"k":"h","x":-0.915,"y":3.3},{"k":"h","x":-0.905,"y":3.0},{"k":"h","x":-0.895,"y":3.6},{"k":"h","x":-0.885,"y":3.3},{"k":"h","x":-0.875,"y":3.8},{"k":"h","x":-0.865,"y":3.5},{"k":"h","x":-0.855,"y":4.1},{"k":"h","x":-0.845,"y":3.8},{"k":"h","x":-0.835,"y":4.4},{"k":"h","x":-0.825,"y":4.6},{"k":"h","x":-0.815,"y":4.4},{"k":"h","x":-0.805,"y":5.0},{"k":"h","x":-0.795,"y":4.8},{"k":"h","x":-0.785,"y":5.4},{"k":"h","x":-0.775,"y":4.7},{"k":"h","x":-0.765,"y":4.9},{"k":"h","x":-0.755,"y":4.2},{"k":"h","x":-0.745,"y":3.9},{"k":"h","x":-0.735,"y":3.5},{"k":"h","x":-0.725,"y":3.0},{"k":"h","x":-0.715,"y":2.6},{"k":"h","x":-0.705,"y":2.1},{"k":"h","x":-0.695,"y":1.7},{"k":"h","x":-0.685,"y":1.4},{"k":"h","x":-0.675,"y":1.1},{"k":"h","x":-0.665,"y":0.9},{"k":"h","x":-0.658,"y":0.8},{"k":"h","x":-0.655,"y":0.8},
{"k":"r","x":-0.72,"y":0.4},{"k":"r","x":-0.66,"y":0.4},{"k":"q","x":-0.69,"y":0.4},
{"k":"T","x":-1.029,"y":5.6,"n":"A963","v":"TVR = −0.80","u":"+0.08","l":"−0.09"}],
"A586":[{"k":"g","x":-1.048,"y":0.19},{"k":"g","x":-1.0,"y":0.57},{"k":"g","x":-0.95,"y":1.36},{"k":"s","x":-0.9,"y":2.55},{"k":"s","x":-0.85,"y":3.71},{"k":"s","x":-0.8,"y":4.2},{"k":"s","x":-0.755,"y":3.71},{"k":"s","x":-0.71,"y":2.55},{"k":"g","x":-0.665,"y":1.36},{"k":"g","x":-0.62,"y":0.57},{"k":"g","x":-0.577,"y":0.19},{"k":"m","x":-0.8,"y":4.2},
{"k":"h","x":-0.9981,"y":0},{"k":"h","x":-0.998,"y":1.0},{"k":"h","x":-0.985,"y":1.3},{"k":"h","x":-0.975,"y":1.6},{"k":"h","x":-0.965,"y":1.9},{"k":"h","x":-0.955,"y":2.2},{"k":"h","x":-0.945,"y":2.4},{"k":"h","x":-0.935,"y":2.8},{"k":"h","x":-0.925,"y":3.0},{"k":"h","x":-0.915,"y":3.3},{"k":"h","x":-0.905,"y":3.5},{"k":"h","x":-0.895,"y":3.7},{"k":"h","x":-0.885,"y":3.6},{"k":"h","x":-0.875,"y":3.9},{"k":"h","x":-0.865,"y":4.0},{"k":"h","x":-0.855,"y":3.8},{"k":"h","x":-0.845,"y":4.1},{"k":"h","x":-0.835,"y":4.3},{"k":"h","x":-0.825,"y":4.0},{"k":"h","x":-0.815,"y":4.4},{"k":"h","x":-0.805,"y":4.2},{"k":"h","x":-0.795,"y":4.5},{"k":"h","x":-0.785,"y":4.1},{"k":"h","x":-0.775,"y":4.0},{"k":"h","x":-0.765,"y":3.8},{"k":"h","x":-0.755,"y":3.5},{"k":"h","x":-0.745,"y":3.4},{"k":"h","x":-0.735,"y":3.0},{"k":"h","x":-0.725,"y":2.8},{"k":"h","x":-0.715,"y":2.6},{"k":"h","x":-0.705,"y":2.3},{"k":"h","x":-0.695,"y":2.0},{"k":"h","x":-0.685,"y":1.8},{"k":"h","x":-0.675,"y":1.5},{"k":"h","x":-0.665,"y":1.4},{"k":"h","x":-0.655,"y":1.2},{"k":"h","x":-0.645,"y":1.0},{"k":"h","x":-0.635,"y":0.9},{"k":"h","x":-0.625,"y":0.8},{"k":"h","x":-0.615,"y":0.7},{"k":"h","x":-0.605,"y":0.6},{"k":"h","x":-0.595,"y":0.5},{"k":"h","x":-0.585,"y":0.5},{"k":"h","x":-0.577,"y":0.5},
{"k":"r","x":-0.577,"y":0},{"k":"r","x":-0.577,"y":4.5},
{"k":"T","x":-0.577,"y":4.5,"n":"A586","v":"TVR = −0.80","u":"+0.09","l":"−0.10"}],
"A2034":[{"k":"g","x":-1.0385,"y":0.21},{"k":"g","x":-0.9914,"y":0.64},{"k":"g","x":-0.9439,"y":1.53},{"k":"s","x":-0.8964,"y":2.85},{"k":"s","x":-0.8489,"y":4.15},{"k":"s","x":-0.8014,"y":4.7},{"k":"s","x":-0.7592,"y":4.15},{"k":"s","x":-0.7169,"y":2.85},{"k":"g","x":-0.6747,"y":1.53},{"k":"g","x":-0.6324,"y":0.64},{"k":"g","x":-0.6026,"y":0.3},{"k":"m","x":-0.8014,"y":4.7},
{"k":"h","x":-0.9987,"y":0},{"k":"h","x":-0.9986,"y":2.2},{"k":"h","x":-0.99,"y":1.6},{"k":"h","x":-0.98,"y":2.1},{"k":"h","x":-0.97,"y":3.2},{"k":"h","x":-0.96,"y":2.0},{"k":"h","x":-0.95,"y":2.3},{"k":"h","x":-0.94,"y":2.5},{"k":"h","x":-0.93,"y":2.1},{"k":"h","x":-0.92,"y":2.4},{"k":"h","x":-0.91,"y":2.6},{"k":"h","x":-0.9,"y":3.1},{"k":"h","x":-0.89,"y":3.5},{"k":"h","x":-0.88,"y":2.7},{"k":"h","x":-0.87,"y":3.1},{"k":"h","x":-0.86,"y":3.6},{"k":"h","x":-0.85,"y":3.8},{"k":"h","x":-0.84,"y":4.2},{"k":"h","x":-0.83,"y":3.6},{"k":"h","x":-0.82,"y":4.2},{"k":"h","x":-0.81,"y":3.8},{"k":"h","x":-0.8,"y":3.6},{"k":"h","x":-0.79,"y":4.3},{"k":"h","x":-0.78,"y":5.0},{"k":"h","x":-0.77,"y":4.1},{"k":"h","x":-0.76,"y":4.9},{"k":"h","x":-0.75,"y":4.1},{"k":"h","x":-0.74,"y":3.8},{"k":"h","x":-0.73,"y":3.3},{"k":"h","x":-0.72,"y":3.0},{"k":"h","x":-0.71,"y":2.4},{"k":"h","x":-0.7,"y":1.8},{"k":"h","x":-0.69,"y":1.2},{"k":"h","x":-0.68,"y":1.0},{"k":"h","x":-0.67,"y":0.8},{"k":"h","x":-0.66,"y":0.6},{"k":"h","x":-0.65,"y":0.5},{"k":"h","x":-0.64,"y":0.3},{"k":"h","x":-0.63,"y":0.2},{"k":"h","x":-0.62,"y":0.1},{"k":"h","x":-0.6026,"y":0.1},
{"k":"r","x":-0.681,"y":0.39},{"k":"r","x":-0.611,"y":0.39},{"k":"q","x":-0.646,"y":0.39},
{"k":"T","x":-1.0385,"y":6,"n":"A2034","v":"TVR = −0.80","u":"+0.08","l":"−0.09"}],
"A1835":[{"k":"g","x":-0.875,"y":0.76},{"k":"g","x":-0.87,"y":0.89},{"k":"g","x":-0.84,"y":2.14},{"k":"s","x":-0.81,"y":4.0},{"k":"s","x":-0.78,"y":5.82},{"k":"s","x":-0.75,"y":6.6},{"k":"s","x":-0.72,"y":5.82},{"k":"s","x":-0.69,"y":4.0},{"k":"g","x":-0.66,"y":2.14},{"k":"g","x":-0.63,"y":0.89},{"k":"g","x":-0.621,"y":0.65},{"k":"m","x":-0.75,"y":6.6},
{"k":"h","x":-0.875,"y":0.6},{"k":"h","x":-0.867,"y":0.9},{"k":"h","x":-0.859,"y":1.2},{"k":"h","x":-0.851,"y":1.6},{"k":"h","x":-0.843,"y":2.0},{"k":"h","x":-0.835,"y":2.5},{"k":"h","x":-0.827,"y":3.0},{"k":"h","x":-0.819,"y":3.6},{"k":"h","x":-0.811,"y":4.0},{"k":"h","x":-0.803,"y":4.5},{"k":"h","x":-0.795,"y":4.9},{"k":"h","x":-0.787,"y":5.4},{"k":"h","x":-0.779,"y":5.9},{"k":"h","x":-0.771,"y":6.2},{"k":"h","x":-0.763,"y":6.8},{"k":"h","x":-0.755,"y":6.5},{"k":"h","x":-0.747,"y":7.2},{"k":"h","x":-0.739,"y":6.4},{"k":"h","x":-0.731,"y":6.0},{"k":"h","x":-0.723,"y":5.6},{"k":"h","x":-0.715,"y":5.0},{"k":"h","x":-0.707,"y":4.4},{"k":"h","x":-0.699,"y":3.8},{"k":"h","x":-0.691,"y":3.2},{"k":"h","x":-0.683,"y":2.6},{"k":"h","x":-0.675,"y":2.1},{"k":"h","x":-0.667,"y":1.6},{"k":"h","x":-0.659,"y":1.2},{"k":"h","x":-0.651,"y":0.9},{"k":"h","x":-0.643,"y":0.7},{"k":"h","x":-0.635,"y":0.5},{"k":"h","x":-0.627,"y":0.3},{"k":"h","x":-0.621,"y":0.3},
{"k":"r","x":-0.663,"y":0.33},{"k":"r","x":-0.623,"y":0.33},{"k":"q","x":-0.643,"y":0.33},
{"k":"T","x":-0.875,"y":8,"n":"A1835","v":"TVR = −0.75","u":"+0.06","l":"−0.06"}],
"A383":[{"k":"g","x":-0.9125,"y":0.21},{"k":"g","x":-0.8542,"y":0.46},{"k":"g","x":-0.7958,"y":0.89},{"k":"g","x":-0.7542,"y":1.32},{"k":"s","x":-0.7108,"y":1.95},{"k":"s","x":-0.6708,"y":2.74},{"k":"s","x":-0.6292,"y":3.42},{"k":"s","x":-0.5958,"y":3.75},{"k":"s","x":-0.5625,"y":3.6},{"k":"s","x":-0.5292,"y":2.99},{"k":"s","x":-0.5058,"y":2.34},{"k":"g","x":-0.4708,"y":1.26},{"k":"g","x":-0.4375,"y":0.52},{"k":"g","x":-0.3975,"y":0.09},{"k":"m","x":-0.5958,"y":3.75},
{"k":"h","x":-0.915,"y":0.4},{"k":"h","x":-0.905,"y":0.35},{"k":"h","x":-0.895,"y":0.5},{"k":"h","x":-0.885,"y":0.7},{"k":"h","x":-0.875,"y":0.6},{"k":"h","x":-0.865,"y":0.75},{"k":"h","x":-0.855,"y":0.65},{"k":"h","x":-0.845,"y":0.9},{"k":"h","x":-0.835,"y":0.8},{"k":"h","x":-0.825,"y":1.0},{"k":"h","x":-0.815,"y":1.1},{"k":"h","x":-0.805,"y":0.9},{"k":"h","x":-0.795,"y":1.2},{"k":"h","x":-0.785,"y":1.6},{"k":"h","x":-0.775,"y":1.5},{"k":"h","x":-0.765,"y":1.9},{"k":"h","x":-0.755,"y":2.3},{"k":"h","x":-0.745,"y":1.8},{"k":"h","x":-0.735,"y":2.2},{"k":"h","x":-0.725,"y":2.6},{"k":"h","x":-0.715,"y":2.3},{"k":"h","x":-0.705,"y":2.8},{"k":"h","x":-0.695,"y":3.0},{"k":"h","x":-0.685,"y":2.7},{"k":"h","x":-0.675,"y":3.3},{"k":"h","x":-0.665,"y":3.1},{"k":"h","x":-0.655,"y":3.5},{"k":"h","x":-0.645,"y":3.2},{"k":"h","x":-0.635,"y":3.6},{"k":"h","x":-0.625,"y":3.9},{"k":"h","x":-0.615,"y":3.4},{"k":"h","x":-0.605,"y":3.7},{"k":"h","x":-0.595,"y":3.9},{"k":"h","x":-0.585,"y":4.0},{"k":"h","x":-0.575,"y":3.6},{"k":"h","x":-0.565,"y":3.5},{"k":"h","x":-0.555,"y":3.2},{"k":"h","x":-0.545,"y":3.3},{"k":"h","x":-0.535,"y":2.9},{"k":"h","x":-0.525,"y":2.7},{"k":"h","x":-0.515,"y":2.8},{"k":"h","x":-0.505,"y":2.3},{"k":"h","x":-0.495,"y":2.0},{"k":"h","x":-0.485,"y":1.8},{"k":"h","x":-0.475,"y":1.4},{"k":"h","x":-0.465,"y":1.1},{"k":"h","x":-0.455,"y":0.8},{"k":"h","x":-0.445,"y":0.5},{"k":"h","x":-0.435,"y":0.3},{"k":"h","x":-0.425,"y":0.2},{"k":"h","x":-0.415,"y":0.1},{"k":"h","x":-0.405,"y":0.05},{"k":"h","x":-0.3975,"y":0.05},
{"k":"r","x":-0.5,"y":0},{"k":"r","x":-0.5,"y":4.5},
{"k":"T","x":-0.9125,"y":4.5,"n":"A383","v":"TVR = −0.60","u":"+0.09","l":"−0.12"}],
"A209":[{"k":"g","x":-0.772,"y":0.51},{"k":"g","x":-0.755,"y":1.0},{"k":"g","x":-0.7275,"y":2.4},{"k":"s","x":-0.7,"y":4.49},{"k":"s","x":-0.6725,"y":6.53},{"k":"s","x":-0.645,"y":7.4},{"k":"s","x":-0.6175,"y":6.53},{"k":"s","x":-0.59,"y":4.49},{"k":"g","x":-0.5625,"y":2.4},{"k":"g","x":-0.535,"y":1.0},{"k":"g","x":-0.529,"y":0.8},{"k":"m","x":-0.645,"y":7.4},
{"k":"h","x":-0.772,"y":0.6},{"k":"h","x":-0.764,"y":0.8},{"k":"h","x":-0.756,"y":1.1},{"k":"h","x":-0.748,"y":1.5},{"k":"h","x":-0.74,"y":2.0},{"k":"h","x":-0.732,"y":2.6},{"k":"h","x":-0.724,"y":3.2},{"k":"h","x":-0.716,"y":3.8},{"k":"h","x":-0.708,"y":4.4},{"k":"h","x":-0.7,"y":5.0},{"k":"h","x":-0.692,"y":5.5},{"k":"h","x":-0.684,"y":6.0},{"k":"h","x":-0.676,"y":6.5},{"k":"h","x":-0.668,"y":6.9},{"k":"h","x":-0.66,"y":7.2},{"k":"h","x":-0.652,"y":7.8},{"k":"h","x":-0.644,"y":7.4},{"k":"h","x":-0.636,"y":8.0},{"k":"h","x":-0.628,"y":7.2},{"k":"h","x":-0.62,"y":7.0},{"k":"h","x":-0.612,"y":6.5},{"k":"h","x":-0.604,"y":6.0},{"k":"h","x":-0.596,"y":5.2},{"k":"h","x":-0.588,"y":4.6},{"k":"h","x":-0.58,"y":3.8},{"k":"h","x":-0.572,"y":3.0},{"k":"h","x":-0.564,"y":2.4},{"k":"h","x":-0.556,"y":1.8},{"k":"h","x":-0.548,"y":1.3},{"k":"h","x":-0.54,"y":0.9},{"k":"h","x":-0.532,"y":0.6},{"k":"h","x":-0.529,"y":0.6},
{"k":"r","x":-0.529,"y":0},{"k":"r","x":-0.529,"y":8},
{"k":"T","x":-0.772,"y":8,"n":"A209","v":"TVR = −0.63","u":"+0.05","l":"−0.06"}],
"RXJ2129":[{"k":"g","x":-0.925,"y":0.28},{"k":"g","x":-0.8733,"y":0.5},{"k":"g","x":-0.815,"y":1.02},{"k":"g","x":-0.7733,"y":1.49},{"k":"s","x":-0.7375,"y":2.03},{"k":"s","x":-0.69,"y":2.82},{"k":"s","x":-0.6483,"y":3.53},{"k":"s","x":-0.6217,"y":3.72},{"k":"s","x":-0.59,"y":3.58},{"k":"s","x":-0.5567,"y":3.04},{"k":"s","x":-0.5275,"y":2.27},{"k":"g","x":-0.4983,"y":1.45},{"k":"g","x":-0.465,"y":0.74},{"k":"g","x":-0.44,"y":0.36},{"k":"g","x":-0.4092,"y":0.11},{"k":"m","x":-0.6217,"y":3.72},
{"k":"h","x":-0.925,"y":0.3},{"k":"h","x":-0.915,"y":0.45},{"k":"h","x":-0.905,"y":0.4},{"k":"h","x":-0.895,"y":0.55},{"k":"h","x":-0.885,"y":0.65},{"k":"h","x":-0.875,"y":0.6},{"k":"h","x":-0.865,"y":0.55},{"k":"h","x":-0.855,"y":0.7},{"k":"h","x":-0.845,"y":0.8},{"k":"h","x":-0.835,"y":0.75},{"k":"h","x":-0.825,"y":1.0},{"k":"h","x":-0.815,"y":1.1},{"k":"h","x":-0.805,"y":1.25},{"k":"h","x":-0.795,"y":1.4},{"k":"h","x":-0.785,"y":1.9},{"k":"h","x":-0.775,"y":1.4},{"k":"h","x":-0.765,"y":1.5},{"k":"h","x":-0.755,"y":1.2},{"k":"h","x":-0.745,"y":1.7},{"k":"h","x":-0.735,"y":2.2},{"k":"h","x":-0.725,"y":2.0},{"k":"h","x":-0.715,"y":2.2},{"k":"h","x":-0.705,"y":2.5},{"k":"h","x":-0.695,"y":2.4},{"k":"h","x":-0.685,"y":2.9},{"k":"h","x":-0.675,"y":2.7},{"k":"h","x":-0.665,"y":3.0},{"k":"h","x":-0.655,"y":3.3},{"k":"h","x":-0.645,"y":3.5},{"k":"h","x":-0.635,"y":3.7},{"k":"h","x":-0.625,"y":3.3},{"k":"h","x":-0.615,"y":3.6},{"k":"h","x":-0.605,"y":3.9},{"k":"h","x":-0.595,"y":3.6},{"k":"h","x":-0.585,"y":3.5},{"k":"h","x":-0.575,"y":3.3},{"k":"h","x":-0.565,"y":3.2},{"k":"h","x":-0.555,"y":3.0},{"k":"h","x":-0.545,"y":2.8},{"k":"h","x":-0.535,"y":2.9},{"k":"h","x":-0.525,"y":2.4},{"k":"h","x":-0.515,"y":2.0},{"k":"h","x":-0.505,"y":1.9},{"k":"h","x":-0.495,"y":1.4},{"k":"h","x":-0.485,"y":1.3},{"k":"h","x":-0.475,"y":1.0},{"k":"h","x":-0.465,"y":0.9},{"k":"h","x":-0.455,"y":0.6},{"k":"h","x":-0.445,"y":0.5},{"k":"h","x":-0.435,"y":0.3},{"k":"h","x":-0.425,"y":0.1},{"k":"h","x":-0.415,"y":0.05},{"k":"h","x":-0.409,"y":0.05},
{"k":"r","x":-0.5,"y":0},{"k":"r","x":-0.5,"y":4},
{"k":"T","x":-0.409,"y":4,"n":"RXJ2129","v":"TVR = −0.62","u":"+0.10","l":"−0.12"}],
"A2261":[{"k":"g","x":-0.766,"y":0.59},{"k":"g","x":-0.755,"y":0.78},{"k":"g","x":-0.715,"y":1.88},{"k":"s","x":-0.675,"y":3.52},{"k":"s","x":-0.635,"y":5.12},{"k":"s","x":-0.595,"y":5.8},{"k":"s","x":-0.56,"y":5.12},{"k":"s","x":-0.525,"y":3.52},{"k":"g","x":-0.49,"y":1.88},{"k":"g","x":-0.455,"y":0.78},{"k":"g","x":-0.434,"y":0.41},{"k":"m","x":-0.595,"y":5.8},
{"k":"h","x":-0.766,"y":0.3},{"k":"h","x":-0.755,"y":0.6},{"k":"h","x":-0.745,"y":0.9},{"k":"h","x":-0.735,"y":1.2},{"k":"h","x":-0.725,"y":1.5},{"k":"h","x":-0.715,"y":1.9},{"k":"h","x":-0.705,"y":2.3},{"k":"h","x":-0.695,"y":2.7},{"k":"h","x":-0.685,"y":3.1},{"k":"h","x":-0.675,"y":3.5},{"k":"h","x":-0.665,"y":3.9},{"k":"h","x":-0.655,"y":4.3},{"k":"h","x":-0.645,"y":4.7},{"k":"h","x":-0.635,"y":5.0},{"k":"h","x":-0.625,"y":5.3},{"k":"h","x":-0.615,"y":5.6},{"k":"h","x":-0.605,"y":5.9},{"k":"h","x":-0.595,"y":6.1},{"k":"h","x":-0.585,"y":5.8},{"k":"h","x":-0.575,"y":5.6},{"k":"h","x":-0.565,"y":5.2},{"k":"h","x":-0.555,"y":4.8},{"k":"h","x":-0.545,"y":4.3},{"k":"h","x":-0.535,"y":3.8},{"k":"h","x":-0.525,"y":3.3},{"k":"h","x":-0.515,"y":2.8},{"k":"h","x":-0.505,"y":2.3},{"k":"h","x":-0.495,"y":1.9},{"k":"h","x":-0.485,"y":1.5},{"k":"h","x":-0.475,"y":1.1},{"k":"h","x":-0.465,"y":0.8},{"k":"h","x":-0.455,"y":0.6},{"k":"h","x":-0.445,"y":0.4},{"k":"h","x":-0.437,"y":0.3},{"k":"h","x":-0.434,"y":0.3},
{"k":"r","x":-0.5,"y":0},{"k":"r","x":-0.5,"y":6.3},
{"k":"T","x":-0.766,"y":6.3,"n":"A2261","v":"TVR = −0.59","u":"+0.07","l":"−0.07"}],
"TOTAL":[{"k":"g","x":-1.167,"y":0.145},{"k":"g","x":-1.1016,"y":0.41},{"k":"g","x":-1.0311,"y":0.97},{"k":"s","x":-0.9606,"y":1.82},{"k":"s","x":-0.8901,"y":2.65},{"k":"s","x":-0.8196,"y":3.0},{"k":"s","x":-0.7516,"y":2.65},{"k":"s","x":-0.6836,"y":1.82},{"k":"g","x":-0.6156,"y":0.97},{"k":"g","x":-0.5476,"y":0.41},{"k":"g","x":-0.4957,"y":0.18},{"k":"m","x":-0.8196,"y":3.0},
{"k":"h","x":-0.9931,"y":0},{"k":"h","x":-0.993,"y":4.5},{"k":"h","x":-0.99,"y":5.7},{"k":"h","x":-0.985,"y":5.3},{"k":"h","x":-0.98,"y":5.5},{"k":"h","x":-0.975,"y":5.0},{"k":"h","x":-0.97,"y":4.9},{"k":"h","x":-0.965,"y":4.6},{"k":"h","x":-0.96,"y":4.3},{"k":"h","x":-0.955,"y":4.1},{"k":"h","x":-0.95,"y":4.0},{"k":"h","x":-0.945,"y":3.9},{"k":"h","x":-0.94,"y":3.8},{"k":"h","x":-0.935,"y":3.6},{"k":"h","x":-0.93,"y":3.5},{"k":"h","x":-0.92,"y":3.4},{"k":"h","x":-0.91,"y":3.2},{"k":"h","x":-0.9,"y":3.0},{"k":"h","x":-0.89,"y":2.95},{"k":"h","x":-0.88,"y":2.9},{"k":"h","x":-0.87,"y":2.85},{"k":"h","x":-0.86,"y":2.8},{"k":"h","x":-0.85,"y":2.7},{"k":"h","x":-0.84,"y":2.6},{"k":"h","x":-0.83,"y":2.5},{"k":"h","x":-0.82,"y":2.45},{"k":"h","x":-0.81,"y":2.4},{"k":"h","x":-0.8,"y":2.34},{"k":"h","x":-0.79,"y":2.2},{"k":"h","x":-0.78,"y":2.1},{"k":"h","x":-0.77,"y":2.0},{"k":"h","x":-0.76,"y":1.9},{"k":"h","x":-0.75,"y":1.85},{"k":"h","x":-0.74,"y":1.75},{"k":"h","x":-0.73,"y":1.65},{"k":"h","x":-0.72,"y":1.58},{"k":"h","x":-0.71,"y":1.5},{"k":"h","x":-0.7,"y":1.4},{"k":"h","x":-0.69,"y":1.35},{"k":"h","x":-0.68,"y":1.3},{"k":"h","x":-0.67,"y":1.2},{"k":"h","x":-0.66,"y":1.15},{"k":"h","x":-0.65,"y":1.1},{"k":"h","x":-0.64,"y":1.05},{"k":"h","x":-0.63,"y":1.0},{"k":"h","x":-0.62,"y":0.95},{"k":"h","x":-0.61,"y":0.9},{"k":"h","x":-0.6,"y":0.87},{"k":"h","x":-0.59,"y":0.83},{"k":"h","x":-0.58,"y":0.79},{"k":"h","x":-0.57,"y":0.75},{"k":"h","x":-0.56,"y":0.7},{"k":"h","x":-0.55,"y":0.65},{"k":"h","x":-0.54,"y":0.6},{"k":"h","x":-0.53,"y":0.55},{"k":"h","x":-0.52,"y":0.5},{"k":"h","x":-0.51,"y":0.46},{"k":"h","x":-0.5,"y":0.43},{"k":"h","x":-0.4957,"y":0.43},
{"k":"r","x":-0.63,"y":0.38},{"k":"r","x":-0.52,"y":0.38},{"k":"q","x":-0.575,"y":0.38},
{"k":"T","x":-0.4957,"y":6,"n":"TOTAL","v":"TVR = −0.82","u":"+0.13","l":"−0.14"}],
"S":[{"n":"A520","m":-0.964,"lo":-0.982,"hi":-0.945},{"n":"A1914","m":-0.96,"lo":-0.98,"hi":-0.941},{"n":"A115","m":-0.945,"lo":-0.98,"hi":-0.917},{"n":"A68","m":-0.941,"lo":-0.975,"hi":-0.914},{"n":"A521","m":-0.902,"lo":-0.951,"hi":-0.852},{"n":"A267","m":-0.888,"lo":-0.951,"hi":-0.825},{"n":"A2390","m":-0.896,"lo":-0.951,"hi":-0.848},{"n":"A2631","m":-0.889,"lo":-0.948,"hi":-0.833},{"n":"A611","m":-0.87,"lo":-0.937,"hi":-0.806},{"n":"ZwCl1459","m":-0.866,"lo":-0.937,"hi":-0.791},{"n":"A2219","m":-0.87,"lo":-0.934,"hi":-0.809},{"n":"ZwCl1454","m":-0.825,"lo":-0.921,"hi":-0.73},{"n":"RXJ1720","m":-0.825,"lo":-0.921,"hi":-0.734},{"n":"A697","m":-0.839,"lo":-0.9,"hi":-0.781},{"n":"A963","m":-0.805,"lo":-0.893,"hi":-0.73},{"n":"A586","m":-0.805,"lo":-0.9,"hi":-0.709},{"n":"A2034","m":-0.805,"lo":-0.893,"hi":-0.723},{"n":"A1835","m":-0.757,"lo":-0.818,"hi":-0.697},{"n":"A383","m":-0.597,"lo":-0.754,"hi":-0.504},{"n":"A209","m":-0.634,"lo":-0.689,"hi":-0.583},{"n":"RXJ2129","m":-0.62,"lo":-0.74,"hi":-0.529},{"n":"A2261","m":-0.593,"lo":-0.661,"hi":-0.529},{"n":"TOTAL","m":-0.822,"lo":-0.959,"hi":-0.698}]
},
"concat":[
{"width":207,"height":123,"data":{"name":"A520"},"encoding":{"x":{"field":"x","type":"quantitative","scale":{"domain":[-1.0028,-0.9204],"nice":false,"zero":false},"axis":{"values":[-1,-0.98,-0.96,-0.94],"format":".2f","title":"TVR"}},"y":{"field":"y","type":"quantitative","scale":{"domain":[0,30],"nice":false},"axis":{"values":[0,5,10,15,20,25,30],"title":"Nc"}}},
"layer":[{"transform":[{"filter":"datum.k=='s'"}],"mark":{"type":"area","interpolate":"monotone","color":"#999999","clip":true}},{"transform":[{"filter":"datum.k=='h'"}],"mark":{"type":"line","interpolate":"step-after","color":"#FFA500","strokeWidth":1.3,"clip":true}},{"transform":[{"filter":"datum.k=='g'||datum.k=='s'"}],"mark":{"type":"line","interpolate":"monotone","color":"black","strokeWidth":1.2,"clip":true}},{"transform":[{"filter":"datum.k=='m'"}],"mark":{"type":"rule","color":"black","strokeDash":[5,3],"strokeWidth":1.5},"encoding":{"y2":{"datum":0}}},{"transform":[{"filter":"datum.k=='r'"}],"mark":{"type":"line","color":"red","strokeWidth":2,"clip":true}},{"transform":[{"filter":"datum.k=='q'"}],"mark":{"type":"text","text":"−0.5","color":"red","fontSize":12,"dy":-5}},
{"transform":[{"filter":"datum.k=='T'"}],"mark":{"type":"text","align":"right","dx":-7,"dy":12,"fontSize":13},"encoding":{"text":{"field":"n"}}},{"transform":[{"filter":"datum.k=='T'"}],"mark":{"type":"text","align":"right","dx":-32,"dy":26,"fontSize":13},"encoding":{"text":{"field":"v"}}},{"transform":[{"filter":"datum.k=='T'"}],"mark":{"type":"text","align":"right","dx":-6,"dy":20,"fontSize":10},"encoding":{"text":{"field":"u"}}},{"transform":[{"filter":"datum.k=='T'"}],"mark":{"type":"text","align":"right","dx":-6,"dy":30,"fontSize":10},"encoding":{"text":{"field":"l"}}}]},
{"width":207,"height":123,"data":{"name":"A1914"},"encoding":{"x":{"field":"x","type":"quantitative","scale":{"domain":[-1.008,-0.912],"nice":false,"zero":false},"axis":{"values":[-1,-0.98,-0.96,-0.94,-0.92],"format":".2f","title":"TVR"}},"y":{"field":"y","type":"quantitative","scale":{"domain":[0,30],"nice":false},"axis":{"values":[0,5,10,15,20,25,30],"title":"Nc"}}},
"layer":[{"transform":[{"filter":"datum.k=='s'"}],"mark":{"type":"area","interpolate":"monotone","color":"#999999","clip":true}},{"transform":[{"filter":"datum.k=='h'"}],"mark":{"type":"line","interpolate":"step-after","color":"#FFA500","strokeWidth":1.3,"clip":true}},{"transform":[{"filter":"datum.k=='g'||datum.k=='s'"}],"mark":{"type":"line","interpolate":"monotone","color":"black","strokeWidth":1.2,"clip":true}},{"transform":[{"filter":"datum.k=='m'"}],"mark":{"type":"rule","color":"black","strokeDash":[5,3],"strokeWidth":1.5},"encoding":{"y2":{"datum":0}}},{"transform":[{"filter":"datum.k=='r'"}],"mark":{"type":"line","color":"red","strokeWidth":2,"clip":true}},{"transform":[{"filter":"datum.k=='q'"}],"mark":{"type":"text","text":"−0.5","color":"red","fontSize":12,"dy":-5}},
{"transform":[{"filter":"datum.k=='T'"}],"mark":{"type":"text","align":"right","dx":-7,"dy":12,"fontSize":13},"encoding":{"text":{"field":"n"}}},{"transform":[{"filter":"datum.k=='T'"}],"mark":{"type":"text","align":"right","dx":-32,"dy":26,"fontSize":13},"encoding":{"text":{"field":"v"}}},{"transform":[{"filter":"datum.k=='T'"}],"mark":{"type":"text","align":"right","dx":-6,"dy":20,"fontSize":10},"encoding":{"text":{"field":"u"}}},{"transform":[{"filter":"datum.k=='T'"}],"mark":{"type":"text","align":"right","dx":-6,"dy":30,"fontSize":10},"encoding":{"text":{"field":"l"}}}]},
{"width":207,"height":123,"data":{"name":"A115"},"encoding":{"x":{"field":"x","type":"quantitative","scale":{"domain":[-1.0196,-0.8822],"nice":false,"zero":false},"axis":{"values":[-1,-0.95,-0.9],"format":".2f","title":"TVR"}},"y":{"field":"y","type":"quantitative","scale":{"domain":[0,18],"nice":false},"axis":{"values":[0,5,10,15],"title":"Nc"}}},
"layer":[{"transform":[{"filter":"datum.k=='s'"}],"mark":{"type":"area","interpolate":"monotone","color":"#999999","clip":true}},{"transform":[{"filter":"datum.k=='h'"}],"mark":{"type":"line","interpolate":"step-after","color":"#FFA500","strokeWidth":1.3,"clip":true}},{"transform":[{"filter":"datum.k=='g'||datum.k=='s'"}],"mark":{"type":"line","interpolate":"monotone","color":"black","strokeWidth":1.2,"clip":true}},{"transform":[{"filter":"datum.k=='m'"}],"mark":{"type":"rule","color":"black","strokeDash":[5,3],"strokeWidth":1.5},"encoding":{"y2":{"datum":0}}},{"transform":[{"filter":"datum.k=='r'"}],"mark":{"type":"line","color":"red","strokeWidth":2,"clip":true}},{"transform":[{"filter":"datum.k=='q'"}],"mark":{"type":"text","text":"−0.5","color":"red","fontSize":12,"dy":-5}},
{"transform":[{"filter":"datum.k=='T'"}],"mark":{"type":"text","align":"right","dx":-7,"dy":12,"fontSize":13},"encoding":{"text":{"field":"n"}}},{"transform":[{"filter":"datum.k=='T'"}],"mark":{"type":"text","align":"right","dx":-32,"dy":26,"fontSize":13},"encoding":{"text":{"field":"v"}}},{"transform":[{"filter":"datum.k=='T'"}],"mark":{"type":"text","align":"right","dx":-6,"dy":20,"fontSize":10},"encoding":{"text":{"field":"u"}}},{"transform":[{"filter":"datum.k=='T'"}],"mark":{"type":"text","align":"right","dx":-6,"dy":30,"fontSize":10},"encoding":{"text":{"field":"l"}}}]},
{"width":207,"height":123,"data":{"name":"A68"},"encoding":{"x":{"field":"x","type":"quantitative","scale":{"domain":[-1.015,-0.8717],"nice":false,"zero":false},"axis":{"values":[-1,-0.95,-0.9],"format":".2f","title":"TVR"}},"y":{"field":"y","type":"quantitative","scale":{"domain":[0,16.2],"nice":false},"axis":{"values":[0,5,10,15],"title":"Nc"}}},
"layer":[{"transform":[{"filter":"datum.k=='s'"}],"mark":{"type":"area","interpolate":"monotone","color":"#999999","clip":true}},{"transform":[{"filter":"datum.k=='h'"}],"mark":{"type":"line","interpolate":"step-after","color":"#FFA500","strokeWidth":1.3,"clip":true}},{"transform":[{"filter":"datum.k=='g'||datum.k=='s'"}],"mark":{"type":"line","interpolate":"monotone","color":"black","strokeWidth":1.2,"clip":true}},{"transform":[{"filter":"datum.k=='m'"}],"mark":{"type":"rule","color":"black","strokeDash":[5,3],"strokeWidth":1.5},"encoding":{"y2":{"datum":0}}},{"transform":[{"filter":"datum.k=='r'"}],"mark":{"type":"line","color":"red","strokeWidth":2,"clip":true}},{"transform":[{"filter":"datum.k=='q'"}],"mark":{"type":"text","text":"−0.5","color":"red","fontSize":12,"dy":-5}},
{"transform":[{"filter":"datum.k=='T'"}],"mark":{"type":"text","align":"right","dx":-7,"dy":12,"fontSize":13},"encoding":{"text":{"field":"n"}}},{"transform":[{"filter":"datum.k=='T'"}],"mark":{"type":"text","align":"right","dx":-32,"dy":26,"fontSize":13},"encoding":{"text":{"field":"v"}}},{"transform":[{"filter":"datum.k=='T'"}],"mark":{"type":"text","align":"right","dx":-6,"dy":20,"fontSize":10},"encoding":{"text":{"field":"u"}}},{"transform":[{"filter":"datum.k=='T'"}],"mark":{"type":"text","align":"right","dx":-6,"dy":30,"fontSize":10},"encoding":{"text":{"field":"l"}}}]},
{"width":207,"height":123,"data":{"name":"A521"},"encoding":{"x":{"field":"x","type":"quantitative","scale":{"domain":[-1.0204,-0.7819],"nice":false,"zero":false},"axis":{"values":[-1,-0.95,-0.9,-0.85,-0.8],"format":".2f","title":"TVR"}},"y":{"field":"y","type":"quantitative","scale":{"domain":[0,10],"nice":false},"axis":{"values":[0,2,4,6,8,10],"title":"Nc"}}},
"layer":[{"transform":[{"filter":"datum.k=='s'"}],"mark":{"type":"area","interpolate":"monotone","color":"#999999","clip":true}},{"transform":[{"filter":"datum.k=='h'"}],"mark":{"type":"line","interpolate":"step-after","color":"#FFA500","strokeWidth":1.3,"clip":true}},{"transform":[{"filter":"datum.k=='g'||datum.k=='s'"}],"mark":{"type":"line","interpolate":"monotone","color":"black","strokeWidth":1.2,"clip":true}},{"transform":[{"filter":"datum.k=='m'"}],"mark":{"type":"rule","color":"black","strokeDash":[5,3],"strokeWidth":1.5},"encoding":{"y2":{"datum":0}}},{"transform":[{"filter":"datum.k=='r'"}],"mark":{"type":"line","color":"red","strokeWidth":2,"clip":true}},{"transform":[{"filter":"datum.k=='q'"}],"mark":{"type":"text","text":"−0.5","color":"red","fontSize":12,"dy":-5}},
{"transform":[{"filter":"datum.k=='T'"}],"mark":{"type":"text","align":"right","dx":-7,"dy":12,"fontSize":13},"encoding":{"text":{"field":"n"}}},{"transform":[{"filter":"datum.k=='T'"}],"mark":{"type":"text","align":"right","dx":-32,"dy":26,"fontSize":13},"encoding":{"text":{"field":"v"}}},{"transform":[{"filter":"datum.k=='T'"}],"mark":{"type":"text","align":"right","dx":-6,"dy":20,"fontSize":10},"encoding":{"text":{"field":"u"}}},{"transform":[{"filter":"datum.k=='T'"}],"mark":{"type":"text","align":"right","dx":-6,"dy":30,"fontSize":10},"encoding":{"text":{"field":"l"}}}]},
{"width":207,"height":123,"data":{"name":"A267"},"encoding":{"x":{"field":"x","type":"quantitative","scale":{"domain":[-1.04,-0.733],"nice":false,"zero":false},"axis":{"values":[-1,-0.8],"format":".1f","title":"TVR"}},"y":{"field":"y","type":"quantitative","scale":{"domain":[0,7],"nice":false},"axis":{"values":[0,2,4,6],"title":"Nc"}}},
"layer":[{"transform":[{"filter":"datum.k=='s'"}],"mark":{"type":"area","interpolate":"monotone","color":"#999999","clip":true}},{"transform":[{"filter":"datum.k=='h'"}],"mark":{"type":"line","interpolate":"step-after","color":"#FFA500","strokeWidth":1.3,"clip":true}},{"transform":[{"filter":"datum.k=='g'||datum.k=='s'"}],"mark":{"type":"line","interpolate":"monotone","color":"black","strokeWidth":1.2,"clip":true}},{"transform":[{"filter":"datum.k=='m'"}],"mark":{"type":"rule","color":"black","strokeDash":[5,3],"strokeWidth":1.5},"encoding":{"y2":{"datum":0}}},{"transform":[{"filter":"datum.k=='r'"}],"mark":{"type":"line","color":"red","strokeWidth":2,"clip":true}},{"transform":[{"filter":"datum.k=='q'"}],"mark":{"type":"text","text":"−0.5","color":"red","fontSize":12,"dy":-5}},
{"transform":[{"filter":"datum.k=='T'"}],"mark":{"type":"text","align":"right","dx":-7,"dy":12,"fontSize":13},"encoding":{"text":{"field":"n"}}},{"transform":[{"filter":"datum.k=='T'"}],"mark":{"type":"text","align":"right","dx":-32,"dy":26,"fontSize":13},"encoding":{"text":{"field":"v"}}},{"transform":[{"filter":"datum.k=='T'"}],"mark":{"type":"text","align":"right","dx":-6,"dy":20,"fontSize":10},"encoding":{"text":{"field":"u"}}},{"transform":[{"filter":"datum.k=='T'"}],"mark":{"type":"text","align":"right","dx":-6,"dy":30,"fontSize":10},"encoding":{"text":{"field":"l"}}}]},
{"width":207,"height":123,"data":{"name":"A2390"},"encoding":{"x":{"field":"x","type":"quantitative","scale":{"domain":[-1.021,-0.78],"nice":false,"zero":false},"axis":{"values":[-1,-0.95,-0.9,-0.85,-0.8],"format":".2f","title":"TVR"}},"y":{"field":"y","type":"quantitative","scale":{"domain":[0,9],"nice":false},"axis":{"values":[0,2,4,6,8],"title":"Nc"}}},
"layer":[{"transform":[{"filter":"datum.k=='s'"}],"mark":{"type":"area","interpolate":"monotone","color":"#999999","clip":true}},{"transform":[{"filter":"datum.k=='h'"}],"mark":{"type":"line","interpolate":"step-after","color":"#FFA500","strokeWidth":1.3,"clip":true}},{"transform":[{"filter":"datum.k=='g'||datum.k=='s'"}],"mark":{"type":"line","interpolate":"monotone","color":"black","strokeWidth":1.2,"clip":true}},{"transform":[{"filter":"datum.k=='m'"}],"mark":{"type":"rule","color":"black","strokeDash":[5,3],"strokeWidth":1.5},"encoding":{"y2":{"datum":0}}},{"transform":[{"filter":"datum.k=='r'"}],"mark":{"type":"line","color":"red","strokeWidth":2,"clip":true}},{"transform":[{"filter":"datum.k=='q'"}],"mark":{"type":"text","text":"−0.5","color":"red","fontSize":12,"dy":-5}},
{"transform":[{"filter":"datum.k=='T'"}],"mark":{"type":"text","align":"right","dx":-7,"dy":12,"fontSize":13},"encoding":{"text":{"field":"n"}}},{"transform":[{"filter":"datum.k=='T'"}],"mark":{"type":"text","align":"right","dx":-32,"dy":26,"fontSize":13},"encoding":{"text":{"field":"v"}}},{"transform":[{"filter":"datum.k=='T'"}],"mark":{"type":"text","align":"right","dx":-6,"dy":20,"fontSize":10},"encoding":{"text":{"field":"u"}}},{"transform":[{"filter":"datum.k=='T'"}],"mark":{"type":"text","align":"right","dx":-6,"dy":30,"fontSize":10},"encoding":{"text":{"field":"l"}}}]},
{"width":207,"height":123,"data":{"name":"A2631"},"encoding":{"x":{"field":"x","type":"quantitative","scale":{"domain":[-1.02,-0.76],"nice":false,"zero":false},"axis":{"values":[-1,-0.95,-0.9,-0.85,-0.8],"format":".2f","title":"TVR"}},"y":{"field":"y","type":"quantitative","scale":{"domain":[0,9],"nice":false},"axis":{"values":[0,2,4,6,8],"title":"Nc"}}},
"layer":[{"transform":[{"filter":"datum.k=='s'"}],"mark":{"type":"area","interpolate":"monotone","color":"#999999","clip":true}},{"transform":[{"filter":"datum.k=='h'"}],"mark":{"type":"line","interpolate":"step-after","color":"#FFA500","strokeWidth":1.3,"clip":true}},{"transform":[{"filter":"datum.k=='g'||datum.k=='s'"}],"mark":{"type":"line","interpolate":"monotone","color":"black","strokeWidth":1.2,"clip":true}},{"transform":[{"filter":"datum.k=='m'"}],"mark":{"type":"rule","color":"black","strokeDash":[5,3],"strokeWidth":1.5},"encoding":{"y2":{"datum":0}}},{"transform":[{"filter":"datum.k=='r'"}],"mark":{"type":"line","color":"red","strokeWidth":2,"clip":true}},{"transform":[{"filter":"datum.k=='q'"}],"mark":{"type":"text","text":"−0.5","color":"red","fontSize":12,"dy":-5}},
{"transform":[{"filter":"datum.k=='T'"}],"mark":{"type":"text","align":"right","dx":-7,"dy":12,"fontSize":13},"encoding":{"text":{"field":"n"}}},{"transform":[{"filter":"datum.k=='T'"}],"mark":{"type":"text","align":"right","dx":-32,"dy":26,"fontSize":13},"encoding":{"text":{"field":"v"}}},{"transform":[{"filter":"datum.k=='T'"}],"mark":{"type":"text","align":"right","dx":-6,"dy":20,"fontSize":10},"encoding":{"text":{"field":"u"}}},{"transform":[{"filter":"datum.k=='T'"}],"mark":{"type":"text","align":"right","dx":-6,"dy":30,"fontSize":10},"encoding":{"text":{"field":"l"}}}]},
{"width":207,"height":123,"data":{"name":"A611"},"encoding":{"x":{"field":"x","type":"quantitative","scale":{"domain":[-1.036,-0.7],"nice":false,"zero":false},"axis":{"values":[-1,-0.9,-0.8],"format":".1f","title":"TVR"}},"y":{"field":"y","type":"quantitative","scale":{"domain":[0,6.8],"nice":false},"axis":{"values":[0,2,4,6],"title":"Nc"}}},
"layer":[{"transform":[{"filter":"datum.k=='s'"}],"mark":{"type":"area","interpolate":"monotone","color":"#999999","clip":true}},{"transform":[{"filter":"datum.k=='h'"}],"mark":{"type":"line","interpolate":"step-after","color":"#FFA500","strokeWidth":1.3,"clip":true}},{"transform":[{"filter":"datum.k=='g'||datum.k=='s'"}],"mark":{"type":"line","interpolate":"monotone","color":"black","strokeWidth":1.2,"clip":true}},{"transform":[{"filter":"datum.k=='m'"}],"mark":{"type":"rule","color":"black","strokeDash":[5,3],"strokeWidth":1.5},"encoding":{"y2":{"datum":0}}},{"transform":[{"filter":"datum.k=='r'"}],"mark":{"type":"line","color":"red","strokeWidth":2,"clip":true}},{"transform":[{"filter":"datum.k=='q'"}],"mark":{"type":"text","text":"−0.5","color":"red","fontSize":12,"dy":-5}},
{"transform":[{"filter":"datum.k=='T'"}],"mark":{"type":"text","align":"right","dx":-7,"dy":12,"fontSize":13},"encoding":{"text":{"field":"n"}}},{"transform":[{"filter":"datum.k=='T'"}],"mark":{"type":"text","align":"right","dx":-32,"dy":26,"fontSize":13},"encoding":{"text":{"field":"v"}}},{"transform":[{"filter":"datum.k=='T'"}],"mark":{"type":"text","align":"right","dx":-6,"dy":20,"fontSize":10},"encoding":{"text":{"field":"u"}}},{"transform":[{"filter":"datum.k=='T'"}],"mark":{"type":"text","align":"right","dx":-6,"dy":30,"fontSize":10},"encoding":{"text":{"field":"l"}}}]},
{"width":207,"height":123,"data":{"name":"ZwCl1459"},"encoding":{"x":{"field":"x","type":"quantitative","scale":{"domain":[-1.043,-0.7],"nice":false,"zero":false},"axis":{"values":[-1,-0.9,-0.8,-0.7],"format":".1f","title":"TVR"}},"y":{"field":"y","type":"quantitative","scale":{"domain":[0,5.7],"nice":false},"axis":{"values":[0,1,2,3,4,5],"title":"Nc"}}},
"layer":[{"transform":[{"filter":"datum.k=='s'"}],"mark":{"type":"area","interpolate":"monotone","color":"#999999","clip":true}},{"transform":[{"filter":"datum.k=='h'"}],"mark":{"type":"line","interpolate":"step-after","color":"#FFA500","strokeWidth":1.3,"clip":true}},{"transform":[{"filter":"datum.k=='g'||datum.k=='s'"}],"mark":{"type":"line","interpolate":"monotone","color":"black","strokeWidth":1.2,"clip":true}},{"transform":[{"filter":"datum.k=='m'"}],"mark":{"type":"rule","color":"black","strokeDash":[5,3],"strokeWidth":1.5},"encoding":{"y2":{"datum":0}}},{"transform":[{"filter":"datum.k=='r'"}],"mark":{"type":"line","color":"red","strokeWidth":2,"clip":true}},{"transform":[{"filter":"datum.k=='q'"}],"mark":{"type":"text","text":"−0.5","color":"red","fontSize":12,"dy":-5}},
{"transform":[{"filter":"datum.k=='T'"}],"mark":{"type":"text","align":"right","dx":-7,"dy":12,"fontSize":13},"encoding":{"text":{"field":"n"}}},{"transform":[{"filter":"datum.k=='T'"}],"mark":{"type":"text","align":"right","dx":-32,"dy":26,"fontSize":13},"encoding":{"text":{"field":"v"}}},{"transform":[{"filter":"datum.k=='T'"}],"mark":{"type":"text","align":"right","dx":-6,"dy":20,"fontSize":10},"encoding":{"text":{"field":"u"}}},{"transform":[{"filter":"datum.k=='T'"}],"mark":{"type":"text","align":"right","dx":-6,"dy":30,"fontSize":10},"encoding":{"text":{"field":"l"}}}]},
{"width":207,"height":123,"data":{"name":"A2219"},"encoding":{"x":{"field":"x","type":"quantitative","scale":{"domain":[-1.034,-0.714],"nice":false,"zero":false},"axis":{"values":[-1,-0.9,-0.8],"format":".1f","title":"TVR"}},"y":{"field":"y","type":"quantitative","scale":{"domain":[0,8],"nice":false},"axis":{"values":[0,2,4,6,8],"title":"Nc"}}},
"layer":[{"transform":[{"filter":"datum.k=='s'"}],"mark":{"type":"area","interpolate":"monotone","color":"#999999","clip":true}},{"transform":[{"filter":"datum.k=='h'"}],"mark":{"type":"line","interpolate":"step-after","color":"#FFA500","strokeWidth":1.3,"clip":true}},{"transform":[{"filter":"datum.k=='g'||datum.k=='s'"}],"mark":{"type":"line","interpolate":"monotone","color":"black","strokeWidth":1.2,"clip":true}},{"transform":[{"filter":"datum.k=='m'"}],"mark":{"type":"rule","color":"black","strokeDash":[5,3],"strokeWidth":1.5},"encoding":{"y2":{"datum":0}}},{"transform":[{"filter":"datum.k=='r'"}],"mark":{"type":"line","color":"red","strokeWidth":2,"clip":true}},{"transform":[{"filter":"datum.k=='q'"}],"mark":{"type":"text","text":"−0.5","color":"red","fontSize":12,"dy":-5}},
{"transform":[{"filter":"datum.k=='T'"}],"mark":{"type":"text","align":"right","dx":-7,"dy":12,"fontSize":13},"encoding":{"text":{"field":"n"}}},{"transform":[{"filter":"datum.k=='T'"}],"mark":{"type":"text","align":"right","dx":-32,"dy":26,"fontSize":13},"encoding":{"text":{"field":"v"}}},{"transform":[{"filter":"datum.k=='T'"}],"mark":{"type":"text","align":"right","dx":-6,"dy":20,"fontSize":10},"encoding":{"text":{"field":"u"}}},{"transform":[{"filter":"datum.k=='T'"}],"mark":{"type":"text","align":"right","dx":-6,"dy":30,"fontSize":10},"encoding":{"text":{"field":"l"}}}]},
{"width":207,"height":123,"data":{"name":"ZwCl1454"},"encoding":{"x":{"field":"x","type":"quantitative","scale":{"domain":[-1.047,-0.597],"nice":false,"zero":false},"axis":{"values":[-1,-0.9,-0.8,-0.7,-0.6],"format":".1f","title":"TVR"}},"y":{"field":"y","type":"quantitative","scale":{"domain":[0,5],"nice":false},"axis":{"values":[0,1,2,3,4,5],"title":"Nc"}}},
"layer":[{"transform":[{"filter":"datum.k=='s'"}],"mark":{"type":"area","interpolate":"monotone","color":"#999999","clip":true}},{"transform":[{"filter":"datum.k=='h'"}],"mark":{"type":"line","interpolate":"step-after","color":"#FFA500","strokeWidth":1.3,"clip":true}},{"transform":[{"filter":"datum.k=='g'||datum.k=='s'"}],"mark":{"type":"line","interpolate":"monotone","color":"black","strokeWidth":1.2,"clip":true}},{"transform":[{"filter":"datum.k=='m'"}],"mark":{"type":"rule","color":"black","strokeDash":[5,3],"strokeWidth":1.5},"encoding":{"y2":{"datum":0}}},{"transform":[{"filter":"datum.k=='r'"}],"mark":{"type":"line","color":"red","strokeWidth":2,"clip":true}},
{"transform":[{"filter":"datum.k=='T'"}],"mark":{"type":"text","align":"right","dx":-7,"dy":12,"fontSize":13},"encoding":{"text":{"field":"n"}}},{"transform":[{"filter":"datum.k=='T'"}],"mark":{"type":"text","align":"right","dx":-32,"dy":26,"fontSize":13},"encoding":{"text":{"field":"v"}}},{"transform":[{"filter":"datum.k=='T'"}],"mark":{"type":"text","align":"right","dx":-6,"dy":20,"fontSize":10},"encoding":{"text":{"field":"u"}}},{"transform":[{"filter":"datum.k=='T'"}],"mark":{"type":"text","align":"right","dx":-6,"dy":30,"fontSize":10},"encoding":{"text":{"field":"l"}}}]},
{"width":207,"height":123,"data":{"name":"RXJ1720"},"encoding":{"x":{"field":"x","type":"quantitative","scale":{"domain":[-1.04,-0.606],"nice":false,"zero":false},"axis":{"values":[-1,-0.9,-0.8,-0.7],"format":".1f","title":"TVR"}},"y":{"field":"y","type":"quantitative","scale":{"domain":[0,4.6],"nice":false},"axis":{"values":[0,1,2,3,4],"title":"Nc"}}},
"layer":[{"transform":[{"filter":"datum.k=='s'"}],"mark":{"type":"area","interpolate":"monotone","color":"#999999","clip":true}},{"transform":[{"filter":"datum.k=='h'"}],"mark":{"type":"line","interpolate":"step-after","color":"#FFA500","strokeWidth":1.3,"clip":true}},{"transform":[{"filter":"datum.k=='g'||datum.k=='s'"}],"mark":{"type":"line","interpolate":"monotone","color":"black","strokeWidth":1.2,"clip":true}},{"transform":[{"filter":"datum.k=='m'"}],"mark":{"type":"rule","color":"black","strokeDash":[5,3],"strokeWidth":1.5},"encoding":{"y2":{"datum":0}}},{"transform":[{"filter":"datum.k=='r'"}],"mark":{"type":"line","color":"red","strokeWidth":2,"clip":true}},{"transform":[{"filter":"datum.k=='q'"}],"mark":{"type":"text","text":"−0.5","color":"red","fontSize":12,"dy":-5}},
{"transform":[{"filter":"datum.k=='T'"}],"mark":{"type":"text","align":"right","dx":-7,"dy":12,"fontSize":13},"encoding":{"text":{"field":"n"}}},{"transform":[{"filter":"datum.k=='T'"}],"mark":{"type":"text","align":"right","dx":-32,"dy":26,"fontSize":13},"encoding":{"text":{"field":"v"}}},{"transform":[{"filter":"datum.k=='T'"}],"mark":{"type":"text","align":"right","dx":-6,"dy":20,"fontSize":10},"encoding":{"text":{"field":"u"}}},{"transform":[{"filter":"datum.k=='T'"}],"mark":{"type":"text","align":"right","dx":-6,"dy":30,"fontSize":10},"encoding":{"text":{"field":"l"}}}]},
{"width":207,"height":123,"data":{"name":"A697"},"encoding":{"x":{"field":"x","type":"quantitative","scale":{"domain":[-0.98,-0.7137],"nice":false,"zero":false},"axis":{"values":[-0.95,-0.9,-0.85,-0.8,-0.75],"format":".2f","title":"TVR"}},"y":{"field":"y","type":"quantitative","scale":{"domain":[0,9],"nice":false},"axis":{"values":[0,2,4,6,8],"title":"Nc"}}},
"layer":[{"transform":[{"filter":"datum.k=='s'"}],"mark":{"type":"area","interpolate":"monotone","color":"#999999","clip":true}},{"transform":[{"filter":"datum.k=='h'"}],"mark":{"type":"line","interpolate":"step-after","color":"#FFA500","strokeWidth":1.3,"clip":true}},{"transform":[{"filter":"datum.k=='g'||datum.k=='s'"}],"mark":{"type":"line","interpolate":"monotone","color":"black","strokeWidth":1.2,"clip":true}},{"transform":[{"filter":"datum.k=='m'"}],"mark":{"type":"rule","color":"black","strokeDash":[5,3],"strokeWidth":1.5},"encoding":{"y2":{"datum":0}}},{"transform":[{"filter":"datum.k=='r'"}],"mark":{"type":"line","color":"red","strokeWidth":2,"clip":true}},{"transform":[{"filter":"datum.k=='q'"}],"mark":{"type":"text","text":"−0.5","color":"red","fontSize":12,"dy":-5}},
{"transform":[{"filter":"datum.k=='T'"}],"mark":{"type":"text","align":"right","dx":-7,"dy":12,"fontSize":13},"encoding":{"text":{"field":"n"}}},{"transform":[{"filter":"datum.k=='T'"}],"mark":{"type":"text","align":"right","dx":-32,"dy":26,"fontSize":13},"encoding":{"text":{"field":"v"}}},{"transform":[{"filter":"datum.k=='T'"}],"mark":{"type":"text","align":"right","dx":-6,"dy":20,"fontSize":10},"encoding":{"text":{"field":"u"}}},{"transform":[{"filter":"datum.k=='T'"}],"mark":{"type":"text","align":"right","dx":-6,"dy":30,"fontSize":10},"encoding":{"text":{"field":"l"}}}]},
{"width":207,"height":123,"data":{"name":"A963"},"encoding":{"x":{"field":"x","type":"quantitative","scale":{"domain":[-1.029,-0.655],"nice":false,"zero":false},"axis":{"values":[-1,-0.9,-0.8,-0.7],"format":".1f","title":"TVR"}},"y":{"field":"y","type":"quantitative","scale":{"domain":[0,5.6],"nice":false},"axis":{"values":[0,1,2,3,4,5],"title":"Nc"}}},
"layer":[{"transform":[{"filter":"datum.k=='s'"}],"mark":{"type":"area","interpolate":"monotone","color":"#999999","clip":true}},{"transform":[{"filter":"datum.k=='h'"}],"mark":{"type":"line","interpolate":"step-after","color":"#FFA500","strokeWidth":1.3,"clip":true}},{"transform":[{"filter":"datum.k=='g'||datum.k=='s'"}],"mark":{"type":"line","interpolate":"monotone","color":"black","strokeWidth":1.2,"clip":true}},{"transform":[{"filter":"datum.k=='m'"}],"mark":{"type":"rule","color":"black","strokeDash":[5,3],"strokeWidth":1.5},"encoding":{"y2":{"datum":0}}},{"transform":[{"filter":"datum.k=='r'"}],"mark":{"type":"line","color":"red","strokeWidth":2,"clip":true}},{"transform":[{"filter":"datum.k=='q'"}],"mark":{"type":"text","text":"−0.5","color":"red","fontSize":12,"dy":-5}},
{"transform":[{"filter":"datum.k=='T'"}],"mark":{"type":"text","align":"left","dx":7,"dy":12,"fontSize":13},"encoding":{"text":{"field":"n"}}},{"transform":[{"filter":"datum.k=='T'"}],"mark":{"type":"text","align":"left","dx":7,"dy":26,"fontSize":13},"encoding":{"text":{"field":"v"}}},{"transform":[{"filter":"datum.k=='T'"}],"mark":{"type":"text","align":"left","dx":80,"dy":20,"fontSize":10},"encoding":{"text":{"field":"u"}}},{"transform":[{"filter":"datum.k=='T'"}],"mark":{"type":"text","align":"left","dx":80,"dy":30,"fontSize":10},"encoding":{"text":{"field":"l"}}}]},
{"width":207,"height":123,"data":{"name":"A586"},"encoding":{"x":{"field":"x","type":"quantitative","scale":{"domain":[-1.048,-0.577],"nice":false,"zero":false},"axis":{"values":[-1,-0.9,-0.8,-0.7,-0.6],"format":".1f","title":"TVR"}},"y":{"field":"y","type":"quantitative","scale":{"domain":[0,4.5],"nice":false},"axis":{"values":[0,1,2,3,4],"title":"Nc"}}},
"layer":[{"transform":[{"filter":"datum.k=='s'"}],"mark":{"type":"area","interpolate":"monotone","color":"#999999","clip":true}},{"transform":[{"filter":"datum.k=='h'"}],"mark":{"type":"line","interpolate":"step-after","color":"#FFA500","strokeWidth":1.3,"clip":true}},{"transform":[{"filter":"datum.k=='g'||datum.k=='s'"}],"mark":{"type":"line","interpolate":"monotone","color":"black","strokeWidth":1.2,"clip":true}},{"transform":[{"filter":"datum.k=='m'"}],"mark":{"type":"rule","color":"black","strokeDash":[5,3],"strokeWidth":1.5},"encoding":{"y2":{"datum":0}}},{"transform":[{"filter":"datum.k=='r'"}],"mark":{"type":"line","color":"red","strokeWidth":2,"clip":true}},
{"transform":[{"filter":"datum.k=='T'"}],"mark":{"type":"text","align":"right","dx":-7,"dy":12,"fontSize":13},"encoding":{"text":{"field":"n"}}},{"transform":[{"filter":"datum.k=='T'"}],"mark":{"type":"text","align":"right","dx":-32,"dy":26,"fontSize":13},"encoding":{"text":{"field":"v"}}},{"transform":[{"filter":"datum.k=='T'"}],"mark":{"type":"text","align":"right","dx":-6,"dy":20,"fontSize":10},"encoding":{"text":{"field":"u"}}},{"transform":[{"filter":"datum.k=='T'"}],"mark":{"type":"text","align":"right","dx":-6,"dy":30,"fontSize":10},"encoding":{"text":{"field":"l"}}}]},
{"width":207,"height":123,"data":{"name":"A2034"},"encoding":{"x":{"field":"x","type":"quantitative","scale":{"domain":[-1.0385,-0.6026],"nice":false,"zero":false},"axis":{"values":[-1,-0.9,-0.8,-0.7],"format":".1f","title":"TVR"}},"y":{"field":"y","type":"quantitative","scale":{"domain":[0,6],"nice":false},"axis":{"values":[0,1,2,3,4,5,6],"title":"Nc"}}},
"layer":[{"transform":[{"filter":"datum.k=='s'"}],"mark":{"type":"area","interpolate":"monotone","color":"#999999","clip":true}},{"transform":[{"filter":"datum.k=='h'"}],"mark":{"type":"line","interpolate":"step-after","color":"#FFA500","strokeWidth":1.3,"clip":true}},{"transform":[{"filter":"datum.k=='g'||datum.k=='s'"}],"mark":{"type":"line","interpolate":"monotone","color":"black","strokeWidth":1.2,"clip":true}},{"transform":[{"filter":"datum.k=='m'"}],"mark":{"type":"rule","color":"black","strokeDash":[5,3],"strokeWidth":1.5},"encoding":{"y2":{"datum":0}}},{"transform":[{"filter":"datum.k=='r'"}],"mark":{"type":"line","color":"red","strokeWidth":2,"clip":true}},{"transform":[{"filter":"datum.k=='q'"}],"mark":{"type":"text","text":"−0.5","color":"red","fontSize":12,"dy":-5}},
{"transform":[{"filter":"datum.k=='T'"}],"mark":{"type":"text","align":"left","dx":7,"dy":12,"fontSize":13},"encoding":{"text":{"field":"n"}}},{"transform":[{"filter":"datum.k=='T'"}],"mark":{"type":"text","align":"left","dx":7,"dy":26,"fontSize":13},"encoding":{"text":{"field":"v"}}},{"transform":[{"filter":"datum.k=='T'"}],"mark":{"type":"text","align":"left","dx":80,"dy":20,"fontSize":10},"encoding":{"text":{"field":"u"}}},{"transform":[{"filter":"datum.k=='T'"}],"mark":{"type":"text","align":"left","dx":80,"dy":30,"fontSize":10},"encoding":{"text":{"field":"l"}}}]},
{"width":207,"height":123,"data":{"name":"A1835"},"encoding":{"x":{"field":"x","type":"quantitative","scale":{"domain":[-0.875,-0.621],"nice":false,"zero":false},"axis":{"values":[-0.8,-0.7],"format":".1f","title":"TVR"}},"y":{"field":"y","type":"quantitative","scale":{"domain":[0,8],"nice":false},"axis":{"values":[0,2,4,6,8],"title":"Nc"}}},
"layer":[{"transform":[{"filter":"datum.k=='s'"}],"mark":{"type":"area","interpolate":"monotone","color":"#999999","clip":true}},{"transform":[{"filter":"datum.k=='h'"}],"mark":{"type":"line","interpolate":"step-after","color":"#FFA500","strokeWidth":1.3,"clip":true}},{"transform":[{"filter":"datum.k=='g'||datum.k=='s'"}],"mark":{"type":"line","interpolate":"monotone","color":"black","strokeWidth":1.2,"clip":true}},{"transform":[{"filter":"datum.k=='m'"}],"mark":{"type":"rule","color":"black","strokeDash":[5,3],"strokeWidth":1.5},"encoding":{"y2":{"datum":0}}},{"transform":[{"filter":"datum.k=='r'"}],"mark":{"type":"line","color":"red","strokeWidth":2,"clip":true}},{"transform":[{"filter":"datum.k=='q'"}],"mark":{"type":"text","text":"−0.5","color":"red","fontSize":12,"dy":-5}},
{"transform":[{"filter":"datum.k=='T'"}],"mark":{"type":"text","align":"left","dx":7,"dy":12,"fontSize":13},"encoding":{"text":{"field":"n"}}},{"transform":[{"filter":"datum.k=='T'"}],"mark":{"type":"text","align":"left","dx":7,"dy":26,"fontSize":13},"encoding":{"text":{"field":"v"}}},{"transform":[{"filter":"datum.k=='T'"}],"mark":{"type":"text","align":"left","dx":80,"dy":20,"fontSize":10},"encoding":{"text":{"field":"u"}}},{"transform":[{"filter":"datum.k=='T'"}],"mark":{"type":"text","align":"left","dx":80,"dy":30,"fontSize":10},"encoding":{"text":{"field":"l"}}}]},
{"width":207,"height":123,"data":{"name":"A383"},"encoding":{"x":{"field":"x","type":"quantitative","scale":{"domain":[-0.9125,-0.3975],"nice":false,"zero":false},"axis":{"values":[-0.9,-0.8,-0.7,-0.6,-0.5,-0.4],"format":".1f","title":"TVR"}},"y":{"field":"y","type":"quantitative","scale":{"domain":[0,4.5],"nice":false},"axis":{"values":[0,1,2,3,4],"title":"Nc"}}},
"layer":[{"transform":[{"filter":"datum.k=='s'"}],"mark":{"type":"area","interpolate":"monotone","color":"#999999","clip":true}},{"transform":[{"filter":"datum.k=='h'"}],"mark":{"type":"line","interpolate":"step-after","color":"#FFA500","strokeWidth":1.3,"clip":true}},{"transform":[{"filter":"datum.k=='g'||datum.k=='s'"}],"mark":{"type":"line","interpolate":"monotone","color":"black","strokeWidth":1.2,"clip":true}},{"transform":[{"filter":"datum.k=='m'"}],"mark":{"type":"rule","color":"black","strokeDash":[5,3],"strokeWidth":1.5},"encoding":{"y2":{"datum":0}}},{"transform":[{"filter":"datum.k=='r'"}],"mark":{"type":"line","color":"red","strokeWidth":1.5,"clip":true}},
{"transform":[{"filter":"datum.k=='T'"}],"mark":{"type":"text","align":"left","dx":7,"dy":12,"fontSize":13},"encoding":{"text":{"field":"n"}}},{"transform":[{"filter":"datum.k=='T'"}],"mark":{"type":"text","align":"left","dx":7,"dy":26,"fontSize":13},"encoding":{"text":{"field":"v"}}},{"transform":[{"filter":"datum.k=='T'"}],"mark":{"type":"text","align":"left","dx":80,"dy":20,"fontSize":10},"encoding":{"text":{"field":"u"}}},{"transform":[{"filter":"datum.k=='T'"}],"mark":{"type":"text","align":"left","dx":80,"dy":30,"fontSize":10},"encoding":{"text":{"field":"l"}}}]},
{"width":207,"height":123,"data":{"name":"A209"},"encoding":{"x":{"field":"x","type":"quantitative","scale":{"domain":[-0.772,-0.529],"nice":false,"zero":false},"axis":{"values":[-0.75,-0.7,-0.65,-0.6,-0.55],"format":".2f","title":"TVR"}},"y":{"field":"y","type":"quantitative","scale":{"domain":[0,8],"nice":false},"axis":{"values":[0,2,4,6,8],"title":"Nc"}}},
"layer":[{"transform":[{"filter":"datum.k=='s'"}],"mark":{"type":"area","interpolate":"monotone","color":"#999999","clip":true}},{"transform":[{"filter":"datum.k=='h'"}],"mark":{"type":"line","interpolate":"step-after","color":"#FFA500","strokeWidth":1.3,"clip":true}},{"transform":[{"filter":"datum.k=='g'||datum.k=='s'"}],"mark":{"type":"line","interpolate":"monotone","color":"black","strokeWidth":1.2,"clip":true}},{"transform":[{"filter":"datum.k=='m'"}],"mark":{"type":"rule","color":"black","strokeDash":[5,3],"strokeWidth":1.5},"encoding":{"y2":{"datum":0}}},{"transform":[{"filter":"datum.k=='r'"}],"mark":{"type":"line","color":"red","strokeWidth":2,"clip":true}},
{"transform":[{"filter":"datum.k=='T'"}],"mark":{"type":"text","align":"left","dx":7,"dy":12,"fontSize":13},"encoding":{"text":{"field":"n"}}},{"transform":[{"filter":"datum.k=='T'"}],"mark":{"type":"text","align":"left","dx":7,"dy":26,"fontSize":13},"encoding":{"text":{"field":"v"}}},{"transform":[{"filter":"datum.k=='T'"}],"mark":{"type":"text","align":"left","dx":80,"dy":20,"fontSize":10},"encoding":{"text":{"field":"u"}}},{"transform":[{"filter":"datum.k=='T'"}],"mark":{"type":"text","align":"left","dx":80,"dy":30,"fontSize":10},"encoding":{"text":{"field":"l"}}}]},
{"width":207,"height":123,"data":{"name":"RXJ2129"},"encoding":{"x":{"field":"x","type":"quantitative","scale":{"domain":[-0.925,-0.409],"nice":false,"zero":false},"axis":{"values":[-0.9,-0.8,-0.7,-0.6,-0.5],"format":".1f","title":"TVR"}},"y":{"field":"y","type":"quantitative","scale":{"domain":[0,4],"nice":false},"axis":{"values":[0,1,2,3,4],"title":"Nc"}}},
"layer":[{"transform":[{"filter":"datum.k=='s'"}],"mark":{"type":"area","interpolate":"monotone","color":"#999999","clip":true}},{"transform":[{"filter":"datum.k=='h'"}],"mark":{"type":"line","interpolate":"step-after","color":"#FFA500","strokeWidth":1.3,"clip":true}},{"transform":[{"filter":"datum.k=='g'||datum.k=='s'"}],"mark":{"type":"line","interpolate":"monotone","color":"black","strokeWidth":1.2,"clip":true}},{"transform":[{"filter":"datum.k=='m'"}],"mark":{"type":"rule","color":"black","strokeDash":[5,3],"strokeWidth":1.5},"encoding":{"y2":{"datum":0}}},{"transform":[{"filter":"datum.k=='r'"}],"mark":{"type":"line","color":"#ff4040","strokeWidth":1.5,"clip":true}},
{"transform":[{"filter":"datum.k=='T'"}],"mark":{"type":"text","align":"right","dx":-7,"dy":12,"fontSize":13},"encoding":{"text":{"field":"n"}}},{"transform":[{"filter":"datum.k=='T'"}],"mark":{"type":"text","align":"right","dx":-32,"dy":26,"fontSize":13},"encoding":{"text":{"field":"v"}}},{"transform":[{"filter":"datum.k=='T'"}],"mark":{"type":"text","align":"right","dx":-6,"dy":20,"fontSize":10},"encoding":{"text":{"field":"u"}}},{"transform":[{"filter":"datum.k=='T'"}],"mark":{"type":"text","align":"right","dx":-6,"dy":30,"fontSize":10},"encoding":{"text":{"field":"l"}}}]},
{"width":207,"height":123,"data":{"name":"A2261"},"encoding":{"x":{"field":"x","type":"quantitative","scale":{"domain":[-0.766,-0.434],"nice":false,"zero":false},"axis":{"values":[-0.7,-0.6,-0.5],"format":".1f","title":"TVR"}},"y":{"field":"y","type":"quantitative","scale":{"domain":[0,6.3],"nice":false},"axis":{"values":[0,1,2,3,4,5,6],"title":"Nc"}}},
"layer":[{"transform":[{"filter":"datum.k=='s'"}],"mark":{"type":"area","interpolate":"monotone","color":"#999999","clip":true}},{"transform":[{"filter":"datum.k=='h'"}],"mark":{"type":"line","interpolate":"step-after","color":"#FFA500","strokeWidth":1.3,"clip":true}},{"transform":[{"filter":"datum.k=='g'||datum.k=='s'"}],"mark":{"type":"line","interpolate":"monotone","color":"black","strokeWidth":1.2,"clip":true}},{"transform":[{"filter":"datum.k=='m'"}],"mark":{"type":"rule","color":"black","strokeDash":[5,3],"strokeWidth":1.5},"encoding":{"y2":{"datum":0}}},{"transform":[{"filter":"datum.k=='r'"}],"mark":{"type":"line","color":"red","strokeWidth":1.5,"clip":true}},
{"transform":[{"filter":"datum.k=='T'"}],"mark":{"type":"text","align":"left","dx":7,"dy":12,"fontSize":13},"encoding":{"text":{"field":"n"}}},{"transform":[{"filter":"datum.k=='T'"}],"mark":{"type":"text","align":"left","dx":7,"dy":26,"fontSize":13},"encoding":{"text":{"field":"v"}}},{"transform":[{"filter":"datum.k=='T'"}],"mark":{"type":"text","align":"left","dx":80,"dy":20,"fontSize":10},"encoding":{"text":{"field":"u"}}},{"transform":[{"filter":"datum.k=='T'"}],"mark":{"type":"text","align":"left","dx":80,"dy":30,"fontSize":10},"encoding":{"text":{"field":"l"}}}]},
{"width":207,"height":123,"data":{"name":"TOTAL"},"encoding":{"x":{"field":"x","type":"quantitative","scale":{"domain":[-1.167,-0.4957],"nice":false,"zero":false},"axis":{"values":[-1,-0.8,-0.6],"format":".1f","title":"TVR"}},"y":{"field":"y","type":"quantitative","scale":{"domain":[0,6],"nice":false},"axis":{"values":[0,1,2,3,4,5,6],"title":"Nc"}}},
"layer":[{"transform":[{"filter":"datum.k=='s'"}],"mark":{"type":"area","interpolate":"monotone","color":"#999999","clip":true}},{"transform":[{"filter":"datum.k=='h'"}],"mark":{"type":"line","interpolate":"step-after","color":"#FFA500","strokeWidth":1.3,"clip":true}},{"transform":[{"filter":"datum.k=='g'||datum.k=='s'"}],"mark":{"type":"line","interpolate":"monotone","color":"black","strokeWidth":1.2,"clip":true}},{"transform":[{"filter":"datum.k=='m'"}],"mark":{"type":"rule","color":"black","strokeDash":[5,3],"strokeWidth":1.5},"encoding":{"y2":{"datum":0}}},{"transform":[{"filter":"datum.k=='r'"}],"mark":{"type":"line","color":"red","strokeWidth":2,"clip":true}},{"transform":[{"filter":"datum.k=='q'"}],"mark":{"type":"text","text":"−0.5","color":"red","fontSize":12,"dy":-5}},
{"transform":[{"filter":"datum.k=='T'"}],"mark":{"type":"text","align":"right","dx":-7,"dy":12,"fontSize":13},"encoding":{"text":{"field":"n"}}},{"transform":[{"filter":"datum.k=='T'"}],"mark":{"type":"text","align":"right","dx":-32,"dy":26,"fontSize":13},"encoding":{"text":{"field":"v"}}},{"transform":[{"filter":"datum.k=='T'"}],"mark":{"type":"text","align":"right","dx":-6,"dy":20,"fontSize":10},"encoding":{"text":{"field":"u"}}},{"transform":[{"filter":"datum.k=='T'"}],"mark":{"type":"text","align":"right","dx":-6,"dy":30,"fontSize":10},"encoding":{"text":{"field":"l"}}}]},
{"width":207,"height":123,"data":{"name":"S"},
"layer":[
{"data":{"values":[{"z":1}]},"mark":{"type":"rule","color":"red","strokeWidth":2.5},"encoding":{"y":{"datum":-0.5,"type":"quantitative","scale":{"domain":[-1,-0.5],"nice":false,"zero":false},"axis":{"values":[-1,-0.9,-0.8,-0.7,-0.6,-0.5],"format":".1f","title":"TVR","titleFontStyle":"normal"}}}},
{"data":{"values":[{"z":1}]},"mark":{"type":"rule","color":"black","strokeDash":[8,5],"strokeWidth":1.2},"encoding":{"y":{"datum":-0.822,"type":"quantitative","scale":{"domain":[-1,-0.5],"nice":false,"zero":false},"axis":{"values":[-1,-0.9,-0.8,-0.7,-0.6,-0.5],"format":".1f","title":"TVR","titleFontStyle":"normal"}}}},
{"data":{"values":[{"a":"A1914","b":"A963","v":-0.89},{"a":"A963","b":"TOTAL","v":-0.7}]},"mark":{"type":"rule","color":"black","strokeDash":[1,2],"strokeWidth":1},"encoding":{"x":{"field":"a","type":"nominal","sort":null,"scale":{"type":"point","padding":1,"domain":["A520","A1914","A115","A68","A521","A267","A2390","A2631","A611","ZwCl1459","A2219","ZwCl1454","RXJ1720","A697","A963","A586","A2034","A1835","A383","A209","RXJ2129","A2261","TOTAL"]},"axis":{"title":null,"labelAngle":-90,"labelPadding":6,"labelFontSize":11.5}},"x2":{"field":"b"},"y":{"field":"v","type":"quantitative","scale":{"domain":[-1,-0.5],"nice":false,"zero":false},"axis":{"values":[-1,-0.9,-0.8,-0.7,-0.6,-0.5],"format":".1f","title":"TVR","titleFontStyle":"normal"}}}},
{"mark":{"type":"rule","strokeWidth":1.4},"encoding":{"x":{"field":"n","type":"nominal","sort":null,"scale":{"type":"point","padding":1,"domain":["A520","A1914","A115","A68","A521","A267","A2390","A2631","A611","ZwCl1459","A2219","ZwCl1454","RXJ1720","A697","A963","A586","A2034","A1835","A383","A209","RXJ2129","A2261","TOTAL"]},"axis":{"title":null,"labelAngle":-90,"labelPadding":6,"labelFontSize":11.5}},"y":{"field":"lo","type":"quantitative","scale":{"domain":[-1,-0.5],"nice":false,"zero":false},"axis":{"values":[-1,-0.9,-0.8,-0.7,-0.6,-0.5],"format":".1f","title":"TVR","titleFontStyle":"normal"}},"y2":{"field":"hi"},"color":{"condition":{"test":"datum.n=='TOTAL'","value":"#3b3bff"},"value":"black"}}},
{"mark":{"type":"tick","size":6,"thickness":1.2,"orient":"horizontal"},"encoding":{"x":{"field":"n","type":"nominal","sort":null,"scale":{"type":"point","padding":1,"domain":["A520","A1914","A115","A68","A521","A267","A2390","A2631","A611","ZwCl1459","A2219","ZwCl1454","RXJ1720","A697","A963","A586","A2034","A1835","A383","A209","RXJ2129","A2261","TOTAL"]},"axis":{"title":null,"labelAngle":-90,"labelPadding":6,"labelFontSize":11.5}},"y":{"field":"lo","type":"quantitative","scale":{"domain":[-1,-0.5],"nice":false,"zero":false},"axis":{"values":[-1,-0.9,-0.8,-0.7,-0.6,-0.5],"format":".1f","title":"TVR","titleFontStyle":"normal"}},"color":{"condition":{"test":"datum.n=='TOTAL'","value":"#3b3bff"},"value":"black"}}},
{"mark":{"type":"tick","size":6,"thickness":1.2,"orient":"horizontal"},"encoding":{"x":{"field":"n","type":"nominal","sort":null,"scale":{"type":"point","padding":1,"domain":["A520","A1914","A115","A68","A521","A267","A2390","A2631","A611","ZwCl1459","A2219","ZwCl1454","RXJ1720","A697","A963","A586","A2034","A1835","A383","A209","RXJ2129","A2261","TOTAL"]},"axis":{"title":null,"labelAngle":-90,"labelPadding":6,"labelFontSize":11.5}},"y":{"field":"hi","type":"quantitative","scale":{"domain":[-1,-0.5],"nice":false,"zero":false},"axis":{"values":[-1,-0.9,-0.8,-0.7,-0.6,-0.5],"format":".1f","title":"TVR","titleFontStyle":"normal"}},"color":{"condition":{"test":"datum.n=='TOTAL'","value":"#3b3bff"},"value":"black"}}},
{"mark":{"type":"point","filled":true,"size":26,"opacity":1},"encoding":{"x":{"field":"n","type":"nominal","sort":null,"scale":{"type":"point","padding":1,"domain":["A520","A1914","A115","A68","A521","A267","A2390","A2631","A611","ZwCl1459","A2219","ZwCl1454","RXJ1720","A697","A963","A586","A2034","A1835","A383","A209","RXJ2129","A2261","TOTAL"]},"axis":{"title":null,"labelAngle":-90,"labelPadding":6,"labelFontSize":11.5}},"y":{"field":"m","type":"quantitative","scale":{"domain":[-1,-0.5],"nice":false,"zero":false},"axis":{"values":[-1,-0.9,-0.8,-0.7,-0.6,-0.5],"format":".1f","title":"TVR","titleFontStyle":"normal"}},"color":{"condition":{"test":"datum.n=='TOTAL'","value":"#3b3bff"},"value":"black"}}}
]}
]
}
